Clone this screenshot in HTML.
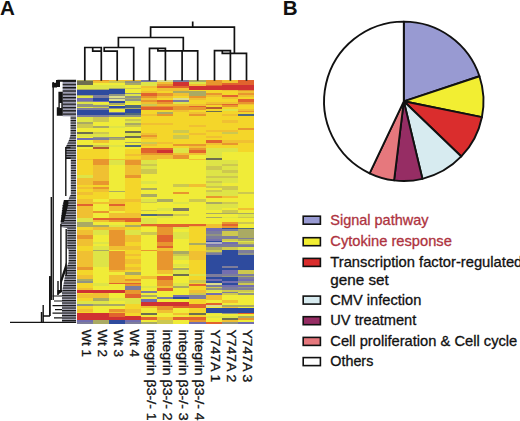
<!DOCTYPE html>
<html><head><meta charset="utf-8"><style>
html,body{margin:0;padding:0;background:#fff;}
svg{display:block;}
text{font-family:"Liberation Sans",sans-serif;}
.lg{font-size:14.2px;stroke-width:0.3px;}
.cl{font-size:13.3px;fill:#111;stroke:#111;stroke-width:0.3px;}
.pl{font-size:20.6px;font-weight:bold;fill:#111;}
</style></head><body>
<svg width="520" height="421" viewBox="0 0 520 421">
<rect width="520" height="421" fill="#fff"/>
<text class="pl" x="0.1" y="14.9">A</text>
<text class="pl" x="282.8" y="14.9">B</text>
<defs><filter id="hb" x="-2%" y="-2%" width="104%" height="104%"><feGaussianBlur stdDeviation="0.45"/></filter></defs><g shape-rendering="crispEdges" filter="url(#hb)"><rect x="76.70" y="79.50" width="16.15" height="1.95" fill="#aaaa64"/>
<rect x="92.80" y="79.50" width="16.15" height="1.95" fill="#e8962d"/>
<rect x="108.90" y="79.50" width="16.15" height="1.95" fill="#f0c030"/>
<rect x="125.00" y="79.50" width="16.15" height="1.95" fill="#f0c030"/>
<rect x="76.70" y="81.40" width="16.15" height="1.95" fill="#6e6e50"/>
<rect x="92.80" y="81.40" width="16.15" height="1.95" fill="#f0c030"/>
<rect x="108.90" y="81.40" width="16.15" height="1.95" fill="#cdc850"/>
<rect x="125.00" y="81.40" width="16.15" height="1.95" fill="#919482"/>
<rect x="76.70" y="83.30" width="16.15" height="1.45" fill="#6e6e50"/>
<rect x="92.80" y="83.30" width="16.15" height="1.45" fill="#f0ec38"/>
<rect x="108.90" y="83.30" width="16.15" height="1.45" fill="#f0ec38"/>
<rect x="125.00" y="83.30" width="16.15" height="1.45" fill="#aaaa64"/>
<rect x="76.70" y="84.70" width="16.15" height="2.85" fill="#dee446"/>
<rect x="92.80" y="84.70" width="16.15" height="2.85" fill="#dee446"/>
<rect x="108.90" y="84.70" width="16.15" height="2.85" fill="#dee446"/>
<rect x="125.00" y="84.70" width="16.15" height="2.85" fill="#f0ec38"/>
<rect x="76.70" y="87.50" width="16.15" height="1.05" fill="#dee446"/>
<rect x="92.80" y="87.50" width="16.15" height="1.05" fill="#dee446"/>
<rect x="108.90" y="87.50" width="16.15" height="1.05" fill="#aaaa64"/>
<rect x="125.00" y="87.50" width="16.15" height="1.05" fill="#cdc850"/>
<rect x="76.70" y="88.50" width="16.15" height="0.95" fill="#aaaa64"/>
<rect x="92.80" y="88.50" width="16.15" height="0.95" fill="#aaaa64"/>
<rect x="108.90" y="88.50" width="16.15" height="0.95" fill="#aaaa64"/>
<rect x="125.00" y="88.50" width="16.15" height="0.95" fill="#cdc850"/>
<rect x="76.70" y="89.40" width="16.15" height="0.55" fill="#aaaa64"/>
<rect x="92.80" y="89.40" width="16.15" height="0.55" fill="#aaaa64"/>
<rect x="108.90" y="89.40" width="16.15" height="0.55" fill="#2e4c9e"/>
<rect x="125.00" y="89.40" width="16.15" height="0.55" fill="#f0ec38"/>
<rect x="76.70" y="89.90" width="16.15" height="2.65" fill="#2e4c9e"/>
<rect x="92.80" y="89.90" width="16.15" height="2.65" fill="#2e4c9e"/>
<rect x="108.90" y="89.90" width="16.15" height="2.65" fill="#2e4c9e"/>
<rect x="125.00" y="89.90" width="16.15" height="2.65" fill="#f0ec38"/>
<rect x="76.70" y="92.50" width="16.15" height="1.75" fill="#2e4c9e"/>
<rect x="92.80" y="92.50" width="16.15" height="1.75" fill="#2e4c9e"/>
<rect x="108.90" y="92.50" width="16.15" height="1.75" fill="#2e4c9e"/>
<rect x="125.00" y="92.50" width="16.15" height="1.75" fill="#919482"/>
<rect x="76.70" y="94.20" width="16.15" height="0.55" fill="#2e4c9e"/>
<rect x="92.80" y="94.20" width="16.15" height="0.55" fill="#2e4c9e"/>
<rect x="108.90" y="94.20" width="16.15" height="0.55" fill="#919482"/>
<rect x="125.00" y="94.20" width="16.15" height="0.55" fill="#dee446"/>
<rect x="76.70" y="94.70" width="16.15" height="0.95" fill="#aaaa64"/>
<rect x="92.80" y="94.70" width="16.15" height="0.95" fill="#7d7d9b"/>
<rect x="108.90" y="94.70" width="16.15" height="0.95" fill="#919482"/>
<rect x="125.00" y="94.70" width="16.15" height="0.95" fill="#dee446"/>
<rect x="76.70" y="95.60" width="16.15" height="0.55" fill="#aaaa64"/>
<rect x="92.80" y="95.60" width="16.15" height="0.55" fill="#7d7d9b"/>
<rect x="108.90" y="95.60" width="16.15" height="0.55" fill="#dedc8c"/>
<rect x="125.00" y="95.60" width="16.15" height="0.55" fill="#919482"/>
<rect x="76.70" y="96.10" width="16.15" height="1.45" fill="#dee446"/>
<rect x="92.80" y="96.10" width="16.15" height="1.45" fill="#7d7d9b"/>
<rect x="108.90" y="96.10" width="16.15" height="1.45" fill="#dedc8c"/>
<rect x="125.00" y="96.10" width="16.15" height="1.45" fill="#919482"/>
<rect x="76.70" y="97.50" width="16.15" height="0.55" fill="#dee446"/>
<rect x="92.80" y="97.50" width="16.15" height="0.55" fill="#7d7d9b"/>
<rect x="108.90" y="97.50" width="16.15" height="0.55" fill="#919482"/>
<rect x="125.00" y="97.50" width="16.15" height="0.55" fill="#aaaa64"/>
<rect x="76.70" y="98.00" width="16.15" height="1.45" fill="#736eaf"/>
<rect x="92.80" y="98.00" width="16.15" height="1.45" fill="#2e4c9e"/>
<rect x="108.90" y="98.00" width="16.15" height="1.45" fill="#919482"/>
<rect x="125.00" y="98.00" width="16.15" height="1.45" fill="#aaaa64"/>
<rect x="76.70" y="99.40" width="16.15" height="1.45" fill="#736eaf"/>
<rect x="92.80" y="99.40" width="16.15" height="1.45" fill="#2e4c9e"/>
<rect x="108.90" y="99.40" width="16.15" height="1.45" fill="#dedc8c"/>
<rect x="125.00" y="99.40" width="16.15" height="1.45" fill="#919482"/>
<rect x="76.70" y="100.80" width="16.15" height="0.55" fill="#919482"/>
<rect x="92.80" y="100.80" width="16.15" height="0.55" fill="#736eaf"/>
<rect x="108.90" y="100.80" width="16.15" height="0.55" fill="#dedc8c"/>
<rect x="125.00" y="100.80" width="16.15" height="0.55" fill="#919482"/>
<rect x="76.70" y="101.30" width="16.15" height="0.55" fill="#919482"/>
<rect x="92.80" y="101.30" width="16.15" height="0.55" fill="#736eaf"/>
<rect x="108.90" y="101.30" width="16.15" height="0.55" fill="#2e4c9e"/>
<rect x="125.00" y="101.30" width="16.15" height="0.55" fill="#dee446"/>
<rect x="76.70" y="101.80" width="16.15" height="1.45" fill="#dee446"/>
<rect x="92.80" y="101.80" width="16.15" height="1.45" fill="#f0ec38"/>
<rect x="108.90" y="101.80" width="16.15" height="1.45" fill="#2e4c9e"/>
<rect x="125.00" y="101.80" width="16.15" height="1.45" fill="#dee446"/>
<rect x="76.70" y="103.20" width="16.15" height="0.55" fill="#dee446"/>
<rect x="92.80" y="103.20" width="16.15" height="0.55" fill="#f0ec38"/>
<rect x="108.90" y="103.20" width="16.15" height="0.55" fill="#aaaa64"/>
<rect x="125.00" y="103.20" width="16.15" height="0.55" fill="#f0ec38"/>
<rect x="76.70" y="103.70" width="16.15" height="0.95" fill="#919482"/>
<rect x="92.80" y="103.70" width="16.15" height="0.95" fill="#dee446"/>
<rect x="108.90" y="103.70" width="16.15" height="0.95" fill="#aaaa64"/>
<rect x="125.00" y="103.70" width="16.15" height="0.95" fill="#f0ec38"/>
<rect x="76.70" y="104.60" width="16.15" height="0.55" fill="#919482"/>
<rect x="92.80" y="104.60" width="16.15" height="0.55" fill="#dee446"/>
<rect x="108.90" y="104.60" width="16.15" height="0.55" fill="#f0ec38"/>
<rect x="125.00" y="104.60" width="16.15" height="0.55" fill="#50697d"/>
<rect x="76.70" y="105.10" width="16.15" height="1.05" fill="#919482"/>
<rect x="92.80" y="105.10" width="16.15" height="1.05" fill="#919482"/>
<rect x="108.90" y="105.10" width="16.15" height="1.05" fill="#f0ec38"/>
<rect x="125.00" y="105.10" width="16.15" height="1.05" fill="#50697d"/>
<rect x="76.70" y="106.10" width="16.15" height="0.45" fill="#919482"/>
<rect x="92.80" y="106.10" width="16.15" height="0.45" fill="#919482"/>
<rect x="108.90" y="106.10" width="16.15" height="0.45" fill="#2e4c9e"/>
<rect x="125.00" y="106.10" width="16.15" height="0.45" fill="#50697d"/>
<rect x="76.70" y="106.50" width="16.15" height="1.05" fill="#dee446"/>
<rect x="92.80" y="106.50" width="16.15" height="1.05" fill="#cdc850"/>
<rect x="108.90" y="106.50" width="16.15" height="1.05" fill="#2e4c9e"/>
<rect x="125.00" y="106.50" width="16.15" height="1.05" fill="#50697d"/>
<rect x="76.70" y="107.50" width="16.15" height="0.95" fill="#dee446"/>
<rect x="92.80" y="107.50" width="16.15" height="0.95" fill="#cdc850"/>
<rect x="108.90" y="107.50" width="16.15" height="0.95" fill="#919482"/>
<rect x="125.00" y="107.50" width="16.15" height="0.95" fill="#aaaa64"/>
<rect x="76.70" y="108.40" width="16.15" height="0.65" fill="#7d7d9b"/>
<rect x="92.80" y="108.40" width="16.15" height="0.65" fill="#7d7d9b"/>
<rect x="108.90" y="108.40" width="16.15" height="0.65" fill="#919482"/>
<rect x="125.00" y="108.40" width="16.15" height="0.65" fill="#aaaa64"/>
<rect x="76.70" y="109.00" width="16.15" height="1.35" fill="#7d7d9b"/>
<rect x="92.80" y="109.00" width="16.15" height="1.35" fill="#7d7d9b"/>
<rect x="108.90" y="109.00" width="16.15" height="1.35" fill="#f0ec38"/>
<rect x="125.00" y="109.00" width="16.15" height="1.35" fill="#2e4c9e"/>
<rect x="76.70" y="110.30" width="16.15" height="1.55" fill="#2e4c9e"/>
<rect x="92.80" y="110.30" width="16.15" height="1.55" fill="#2e4c9e"/>
<rect x="108.90" y="110.30" width="16.15" height="1.55" fill="#f0ec38"/>
<rect x="125.00" y="110.30" width="16.15" height="1.55" fill="#2e4c9e"/>
<rect x="76.70" y="111.80" width="16.15" height="1.45" fill="#2e4c9e"/>
<rect x="92.80" y="111.80" width="16.15" height="1.45" fill="#2e4c9e"/>
<rect x="108.90" y="111.80" width="16.15" height="1.45" fill="#7d7d9b"/>
<rect x="125.00" y="111.80" width="16.15" height="1.45" fill="#2e4c9e"/>
<rect x="76.70" y="113.20" width="16.15" height="1.45" fill="#2e4c9e"/>
<rect x="92.80" y="113.20" width="16.15" height="1.45" fill="#2e4c9e"/>
<rect x="108.90" y="113.20" width="16.15" height="1.45" fill="#2e4c9e"/>
<rect x="125.00" y="113.20" width="16.15" height="1.45" fill="#50697d"/>
<rect x="76.70" y="114.60" width="16.15" height="0.55" fill="#7d7d9b"/>
<rect x="92.80" y="114.60" width="16.15" height="0.55" fill="#7d7d9b"/>
<rect x="108.90" y="114.60" width="16.15" height="0.55" fill="#2e4c9e"/>
<rect x="125.00" y="114.60" width="16.15" height="0.55" fill="#50697d"/>
<rect x="76.70" y="115.10" width="16.15" height="1.55" fill="#7d7d9b"/>
<rect x="92.80" y="115.10" width="16.15" height="1.55" fill="#7d7d9b"/>
<rect x="108.90" y="115.10" width="16.15" height="1.55" fill="#919482"/>
<rect x="125.00" y="115.10" width="16.15" height="1.55" fill="#919482"/>
<rect x="76.70" y="116.60" width="16.15" height="2.25" fill="#dee446"/>
<rect x="92.80" y="116.60" width="16.15" height="2.25" fill="#cdc850"/>
<rect x="108.90" y="116.60" width="16.15" height="2.25" fill="#f0ec38"/>
<rect x="125.00" y="116.60" width="16.15" height="2.25" fill="#f0ec38"/>
<rect x="76.70" y="118.80" width="16.15" height="1.95" fill="#dee446"/>
<rect x="92.80" y="118.80" width="16.15" height="1.95" fill="#cdc850"/>
<rect x="108.90" y="118.80" width="16.15" height="1.95" fill="#f0ec38"/>
<rect x="125.00" y="118.80" width="16.15" height="1.95" fill="#cdc850"/>
<rect x="76.70" y="120.70" width="16.15" height="1.05" fill="#dee446"/>
<rect x="92.80" y="120.70" width="16.15" height="1.05" fill="#cdc850"/>
<rect x="108.90" y="120.70" width="16.15" height="1.05" fill="#f0ec38"/>
<rect x="125.00" y="120.70" width="16.15" height="1.05" fill="#dee446"/>
<rect x="76.70" y="121.70" width="16.15" height="1.05" fill="#aaaa64"/>
<rect x="92.80" y="121.70" width="16.15" height="1.05" fill="#f0ec38"/>
<rect x="108.90" y="121.70" width="16.15" height="1.05" fill="#f0ec38"/>
<rect x="125.00" y="121.70" width="16.15" height="1.05" fill="#dee446"/>
<rect x="76.70" y="122.70" width="16.15" height="0.95" fill="#aaaa64"/>
<rect x="92.80" y="122.70" width="16.15" height="0.95" fill="#f0ec38"/>
<rect x="108.90" y="122.70" width="16.15" height="0.95" fill="#f0ec38"/>
<rect x="125.00" y="122.70" width="16.15" height="0.95" fill="#aaaa64"/>
<rect x="76.70" y="123.60" width="16.15" height="1.05" fill="#cdc850"/>
<rect x="92.80" y="123.60" width="16.15" height="1.05" fill="#f0ec38"/>
<rect x="108.90" y="123.60" width="16.15" height="1.05" fill="#f0ec38"/>
<rect x="125.00" y="123.60" width="16.15" height="1.05" fill="#aaaa64"/>
<rect x="76.70" y="124.60" width="16.15" height="0.95" fill="#cdc850"/>
<rect x="92.80" y="124.60" width="16.15" height="0.95" fill="#f0ec38"/>
<rect x="108.90" y="124.60" width="16.15" height="0.95" fill="#f0ec38"/>
<rect x="125.00" y="124.60" width="16.15" height="0.95" fill="#cdc850"/>
<rect x="76.70" y="125.50" width="16.15" height="1.05" fill="#cdc850"/>
<rect x="92.80" y="125.50" width="16.15" height="1.05" fill="#aaaa64"/>
<rect x="108.90" y="125.50" width="16.15" height="1.05" fill="#dee446"/>
<rect x="125.00" y="125.50" width="16.15" height="1.05" fill="#cdc850"/>
<rect x="76.70" y="126.50" width="16.15" height="1.05" fill="#cdc850"/>
<rect x="92.80" y="126.50" width="16.15" height="1.05" fill="#aaaa64"/>
<rect x="108.90" y="126.50" width="16.15" height="1.05" fill="#dee446"/>
<rect x="125.00" y="126.50" width="16.15" height="1.05" fill="#f0ec38"/>
<rect x="76.70" y="127.50" width="16.15" height="3.85" fill="#f0ec38"/>
<rect x="92.80" y="127.50" width="16.15" height="3.85" fill="#f0ec38"/>
<rect x="108.90" y="127.50" width="16.15" height="3.85" fill="#f0ec38"/>
<rect x="125.00" y="127.50" width="16.15" height="3.85" fill="#f0ec38"/>
<rect x="76.70" y="131.30" width="16.15" height="1.05" fill="#f0ec38"/>
<rect x="92.80" y="131.30" width="16.15" height="1.05" fill="#f0ec38"/>
<rect x="108.90" y="131.30" width="16.15" height="1.05" fill="#f0ec38"/>
<rect x="125.00" y="131.30" width="16.15" height="1.05" fill="#6e6e50"/>
<rect x="76.70" y="132.30" width="16.15" height="0.95" fill="#6e6e50"/>
<rect x="92.80" y="132.30" width="16.15" height="0.95" fill="#cdc850"/>
<rect x="108.90" y="132.30" width="16.15" height="0.95" fill="#f0ec38"/>
<rect x="125.00" y="132.30" width="16.15" height="0.95" fill="#6e6e50"/>
<rect x="76.70" y="133.20" width="16.15" height="1.05" fill="#6e6e50"/>
<rect x="92.80" y="133.20" width="16.15" height="1.05" fill="#cdc850"/>
<rect x="108.90" y="133.20" width="16.15" height="1.05" fill="#f0ec38"/>
<rect x="125.00" y="133.20" width="16.15" height="1.05" fill="#dee446"/>
<rect x="76.70" y="134.20" width="16.15" height="1.45" fill="#dee446"/>
<rect x="92.80" y="134.20" width="16.15" height="1.45" fill="#dee446"/>
<rect x="108.90" y="134.20" width="16.15" height="1.45" fill="#f0ec38"/>
<rect x="125.00" y="134.20" width="16.15" height="1.45" fill="#dee446"/>
<rect x="76.70" y="135.60" width="16.15" height="1.05" fill="#dee446"/>
<rect x="92.80" y="135.60" width="16.15" height="1.05" fill="#dee446"/>
<rect x="108.90" y="135.60" width="16.15" height="1.05" fill="#f0ec38"/>
<rect x="125.00" y="135.60" width="16.15" height="1.05" fill="#6e6e50"/>
<rect x="76.70" y="136.60" width="16.15" height="1.05" fill="#f0ec38"/>
<rect x="92.80" y="136.60" width="16.15" height="1.05" fill="#919482"/>
<rect x="108.90" y="136.60" width="16.15" height="1.05" fill="#919482"/>
<rect x="125.00" y="136.60" width="16.15" height="1.05" fill="#6e6e50"/>
<rect x="76.70" y="137.60" width="16.15" height="0.45" fill="#f0ec38"/>
<rect x="92.80" y="137.60" width="16.15" height="0.45" fill="#919482"/>
<rect x="108.90" y="137.60" width="16.15" height="0.45" fill="#919482"/>
<rect x="125.00" y="137.60" width="16.15" height="0.45" fill="#f0ec38"/>
<rect x="76.70" y="138.00" width="16.15" height="2.05" fill="#736eaf"/>
<rect x="92.80" y="138.00" width="16.15" height="2.05" fill="#7d7d9b"/>
<rect x="108.90" y="138.00" width="16.15" height="2.05" fill="#aaaa64"/>
<rect x="125.00" y="138.00" width="16.15" height="2.05" fill="#f0ec38"/>
<rect x="76.70" y="140.00" width="16.15" height="1.95" fill="#f0ec38"/>
<rect x="92.80" y="140.00" width="16.15" height="1.95" fill="#f0c030"/>
<rect x="108.90" y="140.00" width="16.15" height="1.95" fill="#f0ec38"/>
<rect x="125.00" y="140.00" width="16.15" height="1.95" fill="#f0ec38"/>
<rect x="76.70" y="141.90" width="16.15" height="0.95" fill="#f0ec38"/>
<rect x="92.80" y="141.90" width="16.15" height="0.95" fill="#f0c030"/>
<rect x="108.90" y="141.90" width="16.15" height="0.95" fill="#f0ec38"/>
<rect x="125.00" y="141.90" width="16.15" height="0.95" fill="#aaaa64"/>
<rect x="76.70" y="142.80" width="16.15" height="0.55" fill="#f0ec38"/>
<rect x="92.80" y="142.80" width="16.15" height="0.55" fill="#f0ec38"/>
<rect x="108.90" y="142.80" width="16.15" height="0.55" fill="#f0ec38"/>
<rect x="125.00" y="142.80" width="16.15" height="0.55" fill="#aaaa64"/>
<rect x="76.70" y="143.30" width="16.15" height="1.55" fill="#f0ec38"/>
<rect x="92.80" y="143.30" width="16.15" height="1.55" fill="#f0ec38"/>
<rect x="108.90" y="143.30" width="16.15" height="1.55" fill="#f0ec38"/>
<rect x="125.00" y="143.30" width="16.15" height="1.55" fill="#f0ec38"/>
<rect x="76.70" y="144.80" width="16.15" height="1.95" fill="#6e6e50"/>
<rect x="92.80" y="144.80" width="16.15" height="1.95" fill="#cdc850"/>
<rect x="108.90" y="144.80" width="16.15" height="1.95" fill="#dee446"/>
<rect x="125.00" y="144.80" width="16.15" height="1.95" fill="#50697d"/>
<rect x="76.70" y="146.70" width="16.15" height="0.55" fill="#f0ec38"/>
<rect x="92.80" y="146.70" width="16.15" height="0.55" fill="#b45c32"/>
<rect x="108.90" y="146.70" width="16.15" height="0.55" fill="#f0ec38"/>
<rect x="125.00" y="146.70" width="16.15" height="0.55" fill="#50697d"/>
<rect x="76.70" y="147.20" width="16.15" height="1.45" fill="#f0ec38"/>
<rect x="92.80" y="147.20" width="16.15" height="1.45" fill="#b45c32"/>
<rect x="108.90" y="147.20" width="16.15" height="1.45" fill="#f0ec38"/>
<rect x="125.00" y="147.20" width="16.15" height="1.45" fill="#f0ec38"/>
<rect x="76.70" y="148.60" width="16.15" height="4.95" fill="#f4d62c"/>
<rect x="92.80" y="148.60" width="16.15" height="4.95" fill="#f4d62c"/>
<rect x="108.90" y="148.60" width="16.15" height="4.95" fill="#f0ec38"/>
<rect x="125.00" y="148.60" width="16.15" height="4.95" fill="#f4d62c"/>
<rect x="76.70" y="153.50" width="16.15" height="2.55" fill="#f4d62c"/>
<rect x="92.80" y="153.50" width="16.15" height="2.55" fill="#f4d62c"/>
<rect x="108.90" y="153.50" width="16.15" height="2.55" fill="#f0ec38"/>
<rect x="125.00" y="153.50" width="16.15" height="2.55" fill="#f0c030"/>
<rect x="76.70" y="156.00" width="16.15" height="3.05" fill="#f4d62c"/>
<rect x="92.80" y="156.00" width="16.15" height="3.05" fill="#f4d62c"/>
<rect x="108.90" y="156.00" width="16.15" height="3.05" fill="#f0ec38"/>
<rect x="125.00" y="156.00" width="16.15" height="3.05" fill="#f4d62c"/>
<rect x="76.70" y="159.00" width="16.15" height="1.25" fill="#f0c030"/>
<rect x="92.80" y="159.00" width="16.15" height="1.25" fill="#e8962d"/>
<rect x="108.90" y="159.00" width="16.15" height="1.25" fill="#f0c030"/>
<rect x="125.00" y="159.00" width="16.15" height="1.25" fill="#f0c030"/>
<rect x="76.70" y="160.20" width="16.15" height="4.35" fill="#f4d62c"/>
<rect x="92.80" y="160.20" width="16.15" height="4.35" fill="#e8962d"/>
<rect x="108.90" y="160.20" width="16.15" height="4.35" fill="#dee446"/>
<rect x="125.00" y="160.20" width="16.15" height="4.35" fill="#e8962d"/>
<rect x="76.70" y="164.50" width="16.15" height="10.55" fill="#f4d62c"/>
<rect x="92.80" y="164.50" width="16.15" height="10.55" fill="#f0c030"/>
<rect x="108.90" y="164.50" width="16.15" height="10.55" fill="#f0ec38"/>
<rect x="125.00" y="164.50" width="16.15" height="10.55" fill="#f0c030"/>
<rect x="76.70" y="175.00" width="16.15" height="2.55" fill="#dee446"/>
<rect x="92.80" y="175.00" width="16.15" height="2.55" fill="#f0c030"/>
<rect x="108.90" y="175.00" width="16.15" height="2.55" fill="#f0ec38"/>
<rect x="125.00" y="175.00" width="16.15" height="2.55" fill="#e8962d"/>
<rect x="76.70" y="177.50" width="16.15" height="3.75" fill="#f0c030"/>
<rect x="92.80" y="177.50" width="16.15" height="3.75" fill="#f0c030"/>
<rect x="108.90" y="177.50" width="16.15" height="3.75" fill="#f0ec38"/>
<rect x="125.00" y="177.50" width="16.15" height="3.75" fill="#f4d62c"/>
<rect x="76.70" y="181.20" width="16.15" height="3.65" fill="#f0c030"/>
<rect x="92.80" y="181.20" width="16.15" height="3.65" fill="#e8962d"/>
<rect x="108.90" y="181.20" width="16.15" height="3.65" fill="#f0ec38"/>
<rect x="125.00" y="181.20" width="16.15" height="3.65" fill="#f4d62c"/>
<rect x="76.70" y="184.80" width="16.15" height="2.55" fill="#f4d62c"/>
<rect x="92.80" y="184.80" width="16.15" height="2.55" fill="#f4d62c"/>
<rect x="108.90" y="184.80" width="16.15" height="2.55" fill="#f0ec38"/>
<rect x="125.00" y="184.80" width="16.15" height="2.55" fill="#f4d62c"/>
<rect x="76.70" y="187.30" width="16.15" height="1.95" fill="#f0c030"/>
<rect x="92.80" y="187.30" width="16.15" height="1.95" fill="#e8962d"/>
<rect x="108.90" y="187.30" width="16.15" height="1.95" fill="#f0ec38"/>
<rect x="125.00" y="187.30" width="16.15" height="1.95" fill="#f4d62c"/>
<rect x="76.70" y="189.20" width="16.15" height="1.65" fill="#f4d62c"/>
<rect x="92.80" y="189.20" width="16.15" height="1.65" fill="#f0c030"/>
<rect x="108.90" y="189.20" width="16.15" height="1.65" fill="#f0ec38"/>
<rect x="125.00" y="189.20" width="16.15" height="1.65" fill="#f4d62c"/>
<rect x="76.70" y="190.80" width="16.15" height="1.05" fill="#f4d62c"/>
<rect x="92.80" y="190.80" width="16.15" height="1.05" fill="#f0c030"/>
<rect x="108.90" y="190.80" width="16.15" height="1.05" fill="#aaaa64"/>
<rect x="125.00" y="190.80" width="16.15" height="1.05" fill="#f4d62c"/>
<rect x="76.70" y="191.80" width="16.15" height="3.25" fill="#f0c030"/>
<rect x="92.80" y="191.80" width="16.15" height="3.25" fill="#f4d62c"/>
<rect x="108.90" y="191.80" width="16.15" height="3.25" fill="#f0ec38"/>
<rect x="125.00" y="191.80" width="16.15" height="3.25" fill="#f4d62c"/>
<rect x="76.70" y="195.00" width="16.15" height="4.05" fill="#f4d62c"/>
<rect x="92.80" y="195.00" width="16.15" height="4.05" fill="#f4d62c"/>
<rect x="108.90" y="195.00" width="16.15" height="4.05" fill="#f0ec38"/>
<rect x="125.00" y="195.00" width="16.15" height="4.05" fill="#f4d62c"/>
<rect x="76.70" y="199.00" width="16.15" height="2.55" fill="#f0c030"/>
<rect x="92.80" y="199.00" width="16.15" height="2.55" fill="#f0ec38"/>
<rect x="108.90" y="199.00" width="16.15" height="2.55" fill="#f0c030"/>
<rect x="125.00" y="199.00" width="16.15" height="2.55" fill="#f0c030"/>
<rect x="76.70" y="201.50" width="16.15" height="2.55" fill="#f0c030"/>
<rect x="92.80" y="201.50" width="16.15" height="2.55" fill="#f0c030"/>
<rect x="108.90" y="201.50" width="16.15" height="2.55" fill="#f0c030"/>
<rect x="125.00" y="201.50" width="16.15" height="2.55" fill="#f4d62c"/>
<rect x="76.70" y="204.00" width="16.15" height="2.45" fill="#e1642d"/>
<rect x="92.80" y="204.00" width="16.15" height="2.45" fill="#f0ec38"/>
<rect x="108.90" y="204.00" width="16.15" height="2.45" fill="#e1642d"/>
<rect x="125.00" y="204.00" width="16.15" height="2.45" fill="#f4d62c"/>
<rect x="76.70" y="206.40" width="16.15" height="4.35" fill="#f0c030"/>
<rect x="92.80" y="206.40" width="16.15" height="4.35" fill="#f0ec38"/>
<rect x="108.90" y="206.40" width="16.15" height="4.35" fill="#f0c030"/>
<rect x="125.00" y="206.40" width="16.15" height="4.35" fill="#f4d62c"/>
<rect x="76.70" y="210.70" width="16.15" height="1.85" fill="#f0c030"/>
<rect x="92.80" y="210.70" width="16.15" height="1.85" fill="#e8962d"/>
<rect x="108.90" y="210.70" width="16.15" height="1.85" fill="#f0ec38"/>
<rect x="125.00" y="210.70" width="16.15" height="1.85" fill="#f4d62c"/>
<rect x="76.70" y="212.50" width="16.15" height="5.05" fill="#f0c030"/>
<rect x="92.80" y="212.50" width="16.15" height="5.05" fill="#f0ec38"/>
<rect x="108.90" y="212.50" width="16.15" height="5.05" fill="#f0c030"/>
<rect x="125.00" y="212.50" width="16.15" height="5.05" fill="#f0c030"/>
<rect x="76.70" y="217.50" width="16.15" height="2.45" fill="#dee446"/>
<rect x="92.80" y="217.50" width="16.15" height="2.45" fill="#e1642d"/>
<rect x="108.90" y="217.50" width="16.15" height="2.45" fill="#e1642d"/>
<rect x="125.00" y="217.50" width="16.15" height="2.45" fill="#e1642d"/>
<rect x="76.70" y="219.90" width="16.15" height="2.55" fill="#dee446"/>
<rect x="92.80" y="219.90" width="16.15" height="2.55" fill="#f0c030"/>
<rect x="108.90" y="219.90" width="16.15" height="2.55" fill="#e8962d"/>
<rect x="125.00" y="219.90" width="16.15" height="2.55" fill="#e1642d"/>
<rect x="76.70" y="222.40" width="16.15" height="2.45" fill="#aaaa64"/>
<rect x="92.80" y="222.40" width="16.15" height="2.45" fill="#f0ec38"/>
<rect x="108.90" y="222.40" width="16.15" height="2.45" fill="#f0ec38"/>
<rect x="125.00" y="222.40" width="16.15" height="2.45" fill="#f4d62c"/>
<rect x="76.70" y="224.80" width="16.15" height="2.55" fill="#aaaa64"/>
<rect x="92.80" y="224.80" width="16.15" height="2.55" fill="#aaaa64"/>
<rect x="108.90" y="224.80" width="16.15" height="2.55" fill="#dee446"/>
<rect x="125.00" y="224.80" width="16.15" height="2.55" fill="#aaaa64"/>
<rect x="76.70" y="227.30" width="16.15" height="2.55" fill="#f4d62c"/>
<rect x="92.80" y="227.30" width="16.15" height="2.55" fill="#f0c030"/>
<rect x="108.90" y="227.30" width="16.15" height="2.55" fill="#f0c030"/>
<rect x="125.00" y="227.30" width="16.15" height="2.55" fill="#f4d62c"/>
<rect x="76.70" y="229.80" width="16.15" height="4.95" fill="#f0c030"/>
<rect x="92.80" y="229.80" width="16.15" height="4.95" fill="#dee446"/>
<rect x="108.90" y="229.80" width="16.15" height="4.95" fill="#e8962d"/>
<rect x="125.00" y="229.80" width="16.15" height="4.95" fill="#dee446"/>
<rect x="76.70" y="234.70" width="16.15" height="4.35" fill="#e8962d"/>
<rect x="92.80" y="234.70" width="16.15" height="4.35" fill="#f0ec38"/>
<rect x="108.90" y="234.70" width="16.15" height="4.35" fill="#e8962d"/>
<rect x="125.00" y="234.70" width="16.15" height="4.35" fill="#f0c030"/>
<rect x="76.70" y="239.00" width="16.15" height="2.55" fill="#f0c030"/>
<rect x="92.80" y="239.00" width="16.15" height="2.55" fill="#f0ec38"/>
<rect x="108.90" y="239.00" width="16.15" height="2.55" fill="#e8962d"/>
<rect x="125.00" y="239.00" width="16.15" height="2.55" fill="#f0c030"/>
<rect x="76.70" y="241.50" width="16.15" height="2.55" fill="#f0c030"/>
<rect x="92.80" y="241.50" width="16.15" height="2.55" fill="#dee446"/>
<rect x="108.90" y="241.50" width="16.15" height="2.55" fill="#e8962d"/>
<rect x="125.00" y="241.50" width="16.15" height="2.55" fill="#f4d62c"/>
<rect x="76.70" y="244.00" width="16.15" height="2.45" fill="#f0c030"/>
<rect x="92.80" y="244.00" width="16.15" height="2.45" fill="#f0ec38"/>
<rect x="108.90" y="244.00" width="16.15" height="2.45" fill="#e8962d"/>
<rect x="125.00" y="244.00" width="16.15" height="2.45" fill="#f4d62c"/>
<rect x="76.70" y="246.40" width="16.15" height="3.15" fill="#f4d62c"/>
<rect x="92.80" y="246.40" width="16.15" height="3.15" fill="#dee446"/>
<rect x="108.90" y="246.40" width="16.15" height="3.15" fill="#f0c030"/>
<rect x="125.00" y="246.40" width="16.15" height="3.15" fill="#f0c030"/>
<rect x="76.70" y="249.50" width="16.15" height="1.85" fill="#f4d62c"/>
<rect x="92.80" y="249.50" width="16.15" height="1.85" fill="#aaaa64"/>
<rect x="108.90" y="249.50" width="16.15" height="1.85" fill="#f0ec38"/>
<rect x="125.00" y="249.50" width="16.15" height="1.85" fill="#f4d62c"/>
<rect x="76.70" y="251.30" width="16.15" height="3.15" fill="#f0c030"/>
<rect x="92.80" y="251.30" width="16.15" height="3.15" fill="#dee446"/>
<rect x="108.90" y="251.30" width="16.15" height="3.15" fill="#e8962d"/>
<rect x="125.00" y="251.30" width="16.15" height="3.15" fill="#f4d62c"/>
<rect x="76.70" y="254.40" width="16.15" height="1.85" fill="#f0c030"/>
<rect x="92.80" y="254.40" width="16.15" height="1.85" fill="#dee446"/>
<rect x="108.90" y="254.40" width="16.15" height="1.85" fill="#e8962d"/>
<rect x="125.00" y="254.40" width="16.15" height="1.85" fill="#f0c030"/>
<rect x="76.70" y="256.20" width="16.15" height="2.55" fill="#f0c030"/>
<rect x="92.80" y="256.20" width="16.15" height="2.55" fill="#dee446"/>
<rect x="108.90" y="256.20" width="16.15" height="2.55" fill="#e8962d"/>
<rect x="125.00" y="256.20" width="16.15" height="2.55" fill="#f4d62c"/>
<rect x="76.70" y="258.70" width="16.15" height="4.95" fill="#f0c030"/>
<rect x="92.80" y="258.70" width="16.15" height="4.95" fill="#dee446"/>
<rect x="108.90" y="258.70" width="16.15" height="4.95" fill="#e8962d"/>
<rect x="125.00" y="258.70" width="16.15" height="4.95" fill="#f0c030"/>
<rect x="76.70" y="263.60" width="16.15" height="3.75" fill="#f0c030"/>
<rect x="92.80" y="263.60" width="16.15" height="3.75" fill="#dee446"/>
<rect x="108.90" y="263.60" width="16.15" height="3.75" fill="#e8962d"/>
<rect x="125.00" y="263.60" width="16.15" height="3.75" fill="#f4d62c"/>
<rect x="76.70" y="267.30" width="16.15" height="2.55" fill="#e8962d"/>
<rect x="92.80" y="267.30" width="16.15" height="2.55" fill="#f0ec38"/>
<rect x="108.90" y="267.30" width="16.15" height="2.55" fill="#e8962d"/>
<rect x="125.00" y="267.30" width="16.15" height="2.55" fill="#f0c030"/>
<rect x="76.70" y="269.80" width="16.15" height="2.45" fill="#f4d62c"/>
<rect x="92.80" y="269.80" width="16.15" height="2.45" fill="#f0ec38"/>
<rect x="108.90" y="269.80" width="16.15" height="2.45" fill="#f0c030"/>
<rect x="125.00" y="269.80" width="16.15" height="2.45" fill="#f4d62c"/>
<rect x="76.70" y="272.20" width="16.15" height="2.55" fill="#f4d62c"/>
<rect x="92.80" y="272.20" width="16.15" height="2.55" fill="#f0ec38"/>
<rect x="108.90" y="272.20" width="16.15" height="2.55" fill="#f0ec38"/>
<rect x="125.00" y="272.20" width="16.15" height="2.55" fill="#aaaa64"/>
<rect x="76.70" y="274.70" width="16.15" height="4.35" fill="#f0c030"/>
<rect x="92.80" y="274.70" width="16.15" height="4.35" fill="#f0ec38"/>
<rect x="108.90" y="274.70" width="16.15" height="4.35" fill="#f0c030"/>
<rect x="125.00" y="274.70" width="16.15" height="4.35" fill="#f4d62c"/>
<rect x="76.70" y="279.00" width="16.15" height="1.85" fill="#aaaa64"/>
<rect x="92.80" y="279.00" width="16.15" height="1.85" fill="#f0ec38"/>
<rect x="108.90" y="279.00" width="16.15" height="1.85" fill="#f0c030"/>
<rect x="125.00" y="279.00" width="16.15" height="1.85" fill="#e8962d"/>
<rect x="76.70" y="280.80" width="16.15" height="1.95" fill="#919482"/>
<rect x="92.80" y="280.80" width="16.15" height="1.95" fill="#f0ec38"/>
<rect x="108.90" y="280.80" width="16.15" height="1.95" fill="#f0c030"/>
<rect x="125.00" y="280.80" width="16.15" height="1.95" fill="#f0c030"/>
<rect x="76.70" y="282.70" width="16.15" height="1.35" fill="#f4d62c"/>
<rect x="92.80" y="282.70" width="16.15" height="1.35" fill="#dee446"/>
<rect x="108.90" y="282.70" width="16.15" height="1.35" fill="#e1642d"/>
<rect x="125.00" y="282.70" width="16.15" height="1.35" fill="#e1642d"/>
<rect x="76.70" y="284.00" width="16.15" height="1.85" fill="#f4d62c"/>
<rect x="92.80" y="284.00" width="16.15" height="1.85" fill="#dee446"/>
<rect x="108.90" y="284.00" width="16.15" height="1.85" fill="#f0ec38"/>
<rect x="125.00" y="284.00" width="16.15" height="1.85" fill="#e8962d"/>
<rect x="76.70" y="285.80" width="16.15" height="2.45" fill="#f4d62c"/>
<rect x="92.80" y="285.80" width="16.15" height="2.45" fill="#f0ec38"/>
<rect x="108.90" y="285.80" width="16.15" height="2.45" fill="#f0ec38"/>
<rect x="125.00" y="285.80" width="16.15" height="2.45" fill="#7d7d9b"/>
<rect x="76.70" y="288.20" width="16.15" height="1.35" fill="#f0c030"/>
<rect x="92.80" y="288.20" width="16.15" height="1.35" fill="#f0ec38"/>
<rect x="108.90" y="288.20" width="16.15" height="1.35" fill="#f0ec38"/>
<rect x="125.00" y="288.20" width="16.15" height="1.35" fill="#7d7d9b"/>
<rect x="76.70" y="289.50" width="16.15" height="3.05" fill="#d03030"/>
<rect x="92.80" y="289.50" width="16.15" height="3.05" fill="#d03030"/>
<rect x="108.90" y="289.50" width="16.15" height="3.05" fill="#d03030"/>
<rect x="125.00" y="289.50" width="16.15" height="3.05" fill="#e8962d"/>
<rect x="76.70" y="292.50" width="16.15" height="1.95" fill="#f4d62c"/>
<rect x="92.80" y="292.50" width="16.15" height="1.95" fill="#f0c030"/>
<rect x="108.90" y="292.50" width="16.15" height="1.95" fill="#f0ec38"/>
<rect x="125.00" y="292.50" width="16.15" height="1.95" fill="#e8962d"/>
<rect x="76.70" y="294.40" width="16.15" height="3.15" fill="#f0c030"/>
<rect x="92.80" y="294.40" width="16.15" height="3.15" fill="#f0c030"/>
<rect x="108.90" y="294.40" width="16.15" height="3.15" fill="#f0ec38"/>
<rect x="125.00" y="294.40" width="16.15" height="3.15" fill="#e1642d"/>
<rect x="76.70" y="297.50" width="16.15" height="3.05" fill="#f4d62c"/>
<rect x="92.80" y="297.50" width="16.15" height="3.05" fill="#aaaa64"/>
<rect x="108.90" y="297.50" width="16.15" height="3.05" fill="#dee446"/>
<rect x="125.00" y="297.50" width="16.15" height="3.05" fill="#dee446"/>
<rect x="76.70" y="300.50" width="16.15" height="3.15" fill="#dee446"/>
<rect x="92.80" y="300.50" width="16.15" height="3.15" fill="#dee446"/>
<rect x="108.90" y="300.50" width="16.15" height="3.15" fill="#f0ec38"/>
<rect x="125.00" y="300.50" width="16.15" height="3.15" fill="#dee446"/>
<rect x="76.70" y="303.60" width="16.15" height="1.95" fill="#919482"/>
<rect x="92.80" y="303.60" width="16.15" height="1.95" fill="#aaaa64"/>
<rect x="108.90" y="303.60" width="16.15" height="1.95" fill="#aaaa64"/>
<rect x="125.00" y="303.60" width="16.15" height="1.95" fill="#f4d62c"/>
<rect x="76.70" y="305.50" width="16.15" height="3.05" fill="#f4d62c"/>
<rect x="92.80" y="305.50" width="16.15" height="3.05" fill="#f0ec38"/>
<rect x="108.90" y="305.50" width="16.15" height="3.05" fill="#f0ec38"/>
<rect x="125.00" y="305.50" width="16.15" height="3.05" fill="#f4d62c"/>
<rect x="76.70" y="308.50" width="16.15" height="3.15" fill="#f0c030"/>
<rect x="92.80" y="308.50" width="16.15" height="3.15" fill="#f0ec38"/>
<rect x="108.90" y="308.50" width="16.15" height="3.15" fill="#e8962d"/>
<rect x="125.00" y="308.50" width="16.15" height="3.15" fill="#f0c030"/>
<rect x="76.70" y="311.60" width="16.15" height="1.25" fill="#f4d62c"/>
<rect x="92.80" y="311.60" width="16.15" height="1.25" fill="#f0ec38"/>
<rect x="108.90" y="311.60" width="16.15" height="1.25" fill="#f0c030"/>
<rect x="125.00" y="311.60" width="16.15" height="1.25" fill="#f0c030"/>
<rect x="76.70" y="312.80" width="16.15" height="3.25" fill="#d03030"/>
<rect x="92.80" y="312.80" width="16.15" height="3.25" fill="#d03030"/>
<rect x="108.90" y="312.80" width="16.15" height="3.25" fill="#e1642d"/>
<rect x="125.00" y="312.80" width="16.15" height="3.25" fill="#f4d62c"/>
<rect x="76.70" y="316.00" width="16.15" height="1.25" fill="#d03030"/>
<rect x="92.80" y="316.00" width="16.15" height="1.25" fill="#d03030"/>
<rect x="108.90" y="316.00" width="16.15" height="1.25" fill="#e1642d"/>
<rect x="125.00" y="316.00" width="16.15" height="1.25" fill="#d03030"/>
<rect x="76.70" y="317.20" width="16.15" height="2.45" fill="#d03030"/>
<rect x="92.80" y="317.20" width="16.15" height="2.45" fill="#d03030"/>
<rect x="108.90" y="317.20" width="16.15" height="2.45" fill="#d03030"/>
<rect x="125.00" y="317.20" width="16.15" height="2.45" fill="#d03030"/>
<rect x="76.70" y="319.60" width="16.15" height="1.95" fill="#736eaf"/>
<rect x="92.80" y="319.60" width="16.15" height="1.95" fill="#aaaa64"/>
<rect x="108.90" y="319.60" width="16.15" height="1.95" fill="#2e4c9e"/>
<rect x="125.00" y="319.60" width="16.15" height="1.95" fill="#736eaf"/>
<rect x="76.70" y="321.50" width="16.15" height="2.05" fill="#7d7d9b"/>
<rect x="92.80" y="321.50" width="16.15" height="2.05" fill="#aaaa64"/>
<rect x="108.90" y="321.50" width="16.15" height="2.05" fill="#2e4c9e"/>
<rect x="125.00" y="321.50" width="16.15" height="2.05" fill="#7d7d9b"/>
<rect x="141.10" y="79.50" width="16.15" height="0.75" fill="#aaaa64"/>
<rect x="157.20" y="79.50" width="16.15" height="0.75" fill="#dedc8c"/>
<rect x="173.30" y="79.50" width="16.15" height="0.75" fill="#919482"/>
<rect x="189.40" y="79.50" width="16.15" height="0.75" fill="#aaaa64"/>
<rect x="141.10" y="80.20" width="16.15" height="1.85" fill="#7d7d9b"/>
<rect x="157.20" y="80.20" width="16.15" height="1.85" fill="#dedc8c"/>
<rect x="173.30" y="80.20" width="16.15" height="1.85" fill="#7d7d9b"/>
<rect x="189.40" y="80.20" width="16.15" height="1.85" fill="#aaaa64"/>
<rect x="141.10" y="82.00" width="16.15" height="2.05" fill="#dee446"/>
<rect x="157.20" y="82.00" width="16.15" height="2.05" fill="#f0c030"/>
<rect x="173.30" y="82.00" width="16.15" height="2.05" fill="#d03030"/>
<rect x="189.40" y="82.00" width="16.15" height="2.05" fill="#dee446"/>
<rect x="141.10" y="84.00" width="16.15" height="1.85" fill="#dee446"/>
<rect x="157.20" y="84.00" width="16.15" height="1.85" fill="#e8962d"/>
<rect x="173.30" y="84.00" width="16.15" height="1.85" fill="#d03030"/>
<rect x="189.40" y="84.00" width="16.15" height="1.85" fill="#f0c030"/>
<rect x="141.10" y="85.80" width="16.15" height="2.45" fill="#f0c030"/>
<rect x="157.20" y="85.80" width="16.15" height="2.45" fill="#e1642d"/>
<rect x="173.30" y="85.80" width="16.15" height="2.45" fill="#e1642d"/>
<rect x="189.40" y="85.80" width="16.15" height="2.45" fill="#d03030"/>
<rect x="141.10" y="88.20" width="16.15" height="1.35" fill="#f4d62c"/>
<rect x="157.20" y="88.20" width="16.15" height="1.35" fill="#f0c030"/>
<rect x="173.30" y="88.20" width="16.15" height="1.35" fill="#f0c030"/>
<rect x="189.40" y="88.20" width="16.15" height="1.35" fill="#d03030"/>
<rect x="141.10" y="89.50" width="16.15" height="1.85" fill="#f4d62c"/>
<rect x="157.20" y="89.50" width="16.15" height="1.85" fill="#f0c030"/>
<rect x="173.30" y="89.50" width="16.15" height="1.85" fill="#f0c030"/>
<rect x="189.40" y="89.50" width="16.15" height="1.85" fill="#f4d62c"/>
<rect x="141.10" y="91.30" width="16.15" height="1.95" fill="#f0c030"/>
<rect x="157.20" y="91.30" width="16.15" height="1.95" fill="#f4d62c"/>
<rect x="173.30" y="91.30" width="16.15" height="1.95" fill="#aaaa64"/>
<rect x="189.40" y="91.30" width="16.15" height="1.95" fill="#aaaa64"/>
<rect x="141.10" y="93.20" width="16.15" height="2.45" fill="#e1642d"/>
<rect x="157.20" y="93.20" width="16.15" height="2.45" fill="#e8962d"/>
<rect x="173.30" y="93.20" width="16.15" height="2.45" fill="#f0c030"/>
<rect x="189.40" y="93.20" width="16.15" height="2.45" fill="#aaaa64"/>
<rect x="141.10" y="95.60" width="16.15" height="1.95" fill="#e8962d"/>
<rect x="157.20" y="95.60" width="16.15" height="1.95" fill="#f0c030"/>
<rect x="173.30" y="95.60" width="16.15" height="1.95" fill="#f4d62c"/>
<rect x="189.40" y="95.60" width="16.15" height="1.95" fill="#e8962d"/>
<rect x="141.10" y="97.50" width="16.15" height="2.45" fill="#f0c030"/>
<rect x="157.20" y="97.50" width="16.15" height="2.45" fill="#f4d62c"/>
<rect x="173.30" y="97.50" width="16.15" height="2.45" fill="#dedc8c"/>
<rect x="189.40" y="97.50" width="16.15" height="2.45" fill="#f0c030"/>
<rect x="141.10" y="99.90" width="16.15" height="1.95" fill="#e8962d"/>
<rect x="157.20" y="99.90" width="16.15" height="1.95" fill="#e1642d"/>
<rect x="173.30" y="99.90" width="16.15" height="1.95" fill="#7d7d9b"/>
<rect x="189.40" y="99.90" width="16.15" height="1.95" fill="#f4d62c"/>
<rect x="141.10" y="101.80" width="16.15" height="1.85" fill="#f0c030"/>
<rect x="157.20" y="101.80" width="16.15" height="1.85" fill="#e8962d"/>
<rect x="173.30" y="101.80" width="16.15" height="1.85" fill="#dee446"/>
<rect x="189.40" y="101.80" width="16.15" height="1.85" fill="#f4d62c"/>
<rect x="141.10" y="103.60" width="16.15" height="1.95" fill="#cdc850"/>
<rect x="157.20" y="103.60" width="16.15" height="1.95" fill="#f0c030"/>
<rect x="173.30" y="103.60" width="16.15" height="1.95" fill="#f0c030"/>
<rect x="189.40" y="103.60" width="16.15" height="1.95" fill="#f0c030"/>
<rect x="141.10" y="105.50" width="16.15" height="1.85" fill="#e8962d"/>
<rect x="157.20" y="105.50" width="16.15" height="1.85" fill="#e8962d"/>
<rect x="173.30" y="105.50" width="16.15" height="1.85" fill="#e8962d"/>
<rect x="189.40" y="105.50" width="16.15" height="1.85" fill="#e1642d"/>
<rect x="141.10" y="107.30" width="16.15" height="2.55" fill="#e1642d"/>
<rect x="157.20" y="107.30" width="16.15" height="2.55" fill="#e1642d"/>
<rect x="173.30" y="107.30" width="16.15" height="2.55" fill="#e8962d"/>
<rect x="189.40" y="107.30" width="16.15" height="2.55" fill="#e8962d"/>
<rect x="141.10" y="109.80" width="16.15" height="1.85" fill="#f4d62c"/>
<rect x="157.20" y="109.80" width="16.15" height="1.85" fill="#f4d62c"/>
<rect x="173.30" y="109.80" width="16.15" height="1.85" fill="#f0c030"/>
<rect x="189.40" y="109.80" width="16.15" height="1.85" fill="#f4d62c"/>
<rect x="141.10" y="111.60" width="16.15" height="2.55" fill="#f4d62c"/>
<rect x="157.20" y="111.60" width="16.15" height="2.55" fill="#aaaa64"/>
<rect x="173.30" y="111.60" width="16.15" height="2.55" fill="#f4d62c"/>
<rect x="189.40" y="111.60" width="16.15" height="2.55" fill="#f0c030"/>
<rect x="141.10" y="114.10" width="16.15" height="1.95" fill="#f0c030"/>
<rect x="157.20" y="114.10" width="16.15" height="1.95" fill="#e8962d"/>
<rect x="173.30" y="114.10" width="16.15" height="1.95" fill="#f4d62c"/>
<rect x="189.40" y="114.10" width="16.15" height="1.95" fill="#e8962d"/>
<rect x="141.10" y="116.00" width="16.15" height="7.35" fill="#f4d62c"/>
<rect x="157.20" y="116.00" width="16.15" height="7.35" fill="#f4d62c"/>
<rect x="173.30" y="116.00" width="16.15" height="7.35" fill="#f4d62c"/>
<rect x="189.40" y="116.00" width="16.15" height="7.35" fill="#f4d62c"/>
<rect x="141.10" y="123.30" width="16.15" height="1.95" fill="#f0c030"/>
<rect x="157.20" y="123.30" width="16.15" height="1.95" fill="#f0c030"/>
<rect x="173.30" y="123.30" width="16.15" height="1.95" fill="#f4d62c"/>
<rect x="189.40" y="123.30" width="16.15" height="1.95" fill="#f4d62c"/>
<rect x="141.10" y="125.20" width="16.15" height="1.85" fill="#f4d62c"/>
<rect x="157.20" y="125.20" width="16.15" height="1.85" fill="#f4d62c"/>
<rect x="173.30" y="125.20" width="16.15" height="1.85" fill="#f4d62c"/>
<rect x="189.40" y="125.20" width="16.15" height="1.85" fill="#f0c030"/>
<rect x="141.10" y="127.00" width="16.15" height="3.05" fill="#f4d62c"/>
<rect x="157.20" y="127.00" width="16.15" height="3.05" fill="#f4d62c"/>
<rect x="173.30" y="127.00" width="16.15" height="3.05" fill="#f4d62c"/>
<rect x="189.40" y="127.00" width="16.15" height="3.05" fill="#f4d62c"/>
<rect x="141.10" y="130.00" width="16.15" height="2.55" fill="#f4d62c"/>
<rect x="157.20" y="130.00" width="16.15" height="2.55" fill="#f4d62c"/>
<rect x="173.30" y="130.00" width="16.15" height="2.55" fill="#cdc850"/>
<rect x="189.40" y="130.00" width="16.15" height="2.55" fill="#f4d62c"/>
<rect x="141.10" y="132.50" width="16.15" height="2.55" fill="#f0c030"/>
<rect x="157.20" y="132.50" width="16.15" height="2.55" fill="#f4d62c"/>
<rect x="173.30" y="132.50" width="16.15" height="2.55" fill="#f4d62c"/>
<rect x="189.40" y="132.50" width="16.15" height="2.55" fill="#f0c030"/>
<rect x="141.10" y="135.00" width="16.15" height="1.55" fill="#e8962d"/>
<rect x="157.20" y="135.00" width="16.15" height="1.55" fill="#f4d62c"/>
<rect x="173.30" y="135.00" width="16.15" height="1.55" fill="#cdc850"/>
<rect x="189.40" y="135.00" width="16.15" height="1.55" fill="#f4d62c"/>
<rect x="141.10" y="136.50" width="16.15" height="2.25" fill="#f0c030"/>
<rect x="157.20" y="136.50" width="16.15" height="2.25" fill="#f4d62c"/>
<rect x="173.30" y="136.50" width="16.15" height="2.25" fill="#cdc850"/>
<rect x="189.40" y="136.50" width="16.15" height="2.25" fill="#f4d62c"/>
<rect x="141.10" y="138.70" width="16.15" height="3.15" fill="#f4d62c"/>
<rect x="157.20" y="138.70" width="16.15" height="3.15" fill="#f4d62c"/>
<rect x="173.30" y="138.70" width="16.15" height="3.15" fill="#f4d62c"/>
<rect x="189.40" y="138.70" width="16.15" height="3.15" fill="#f4d62c"/>
<rect x="141.10" y="141.80" width="16.15" height="1.85" fill="#cdc850"/>
<rect x="157.20" y="141.80" width="16.15" height="1.85" fill="#f0c030"/>
<rect x="173.30" y="141.80" width="16.15" height="1.85" fill="#f4d62c"/>
<rect x="189.40" y="141.80" width="16.15" height="1.85" fill="#f4d62c"/>
<rect x="141.10" y="143.60" width="16.15" height="1.95" fill="#f0c030"/>
<rect x="157.20" y="143.60" width="16.15" height="1.95" fill="#f4d62c"/>
<rect x="173.30" y="143.60" width="16.15" height="1.95" fill="#e8962d"/>
<rect x="189.40" y="143.60" width="16.15" height="1.95" fill="#e8962d"/>
<rect x="141.10" y="145.50" width="16.15" height="2.55" fill="#f4d62c"/>
<rect x="157.20" y="145.50" width="16.15" height="2.55" fill="#f4d62c"/>
<rect x="173.30" y="145.50" width="16.15" height="2.55" fill="#f4d62c"/>
<rect x="189.40" y="145.50" width="16.15" height="2.55" fill="#f0c030"/>
<rect x="141.10" y="148.00" width="16.15" height="2.45" fill="#e1642d"/>
<rect x="157.20" y="148.00" width="16.15" height="2.45" fill="#e1642d"/>
<rect x="173.30" y="148.00" width="16.15" height="2.45" fill="#dee446"/>
<rect x="189.40" y="148.00" width="16.15" height="2.45" fill="#e8962d"/>
<rect x="141.10" y="150.40" width="16.15" height="2.45" fill="#e1642d"/>
<rect x="157.20" y="150.40" width="16.15" height="2.45" fill="#d03030"/>
<rect x="173.30" y="150.40" width="16.15" height="2.45" fill="#dee446"/>
<rect x="189.40" y="150.40" width="16.15" height="2.45" fill="#e1642d"/>
<rect x="141.10" y="152.80" width="16.15" height="2.55" fill="#e8962d"/>
<rect x="157.20" y="152.80" width="16.15" height="2.55" fill="#e8962d"/>
<rect x="173.30" y="152.80" width="16.15" height="2.55" fill="#f0c030"/>
<rect x="189.40" y="152.80" width="16.15" height="2.55" fill="#f0c030"/>
<rect x="141.10" y="155.30" width="16.15" height="3.75" fill="#f0c030"/>
<rect x="157.20" y="155.30" width="16.15" height="3.75" fill="#f0c030"/>
<rect x="173.30" y="155.30" width="16.15" height="3.75" fill="#e8962d"/>
<rect x="189.40" y="155.30" width="16.15" height="3.75" fill="#f0ec38"/>
<rect x="141.10" y="159.00" width="16.15" height="1.25" fill="#f0c030"/>
<rect x="157.20" y="159.00" width="16.15" height="1.25" fill="#f0ec38"/>
<rect x="173.30" y="159.00" width="16.15" height="1.25" fill="#f0ec38"/>
<rect x="189.40" y="159.00" width="16.15" height="1.25" fill="#f0c030"/>
<rect x="141.10" y="160.20" width="16.15" height="3.85" fill="#dee446"/>
<rect x="157.20" y="160.20" width="16.15" height="3.85" fill="#f0ec38"/>
<rect x="173.30" y="160.20" width="16.15" height="3.85" fill="#f0ec38"/>
<rect x="189.40" y="160.20" width="16.15" height="3.85" fill="#f0ec38"/>
<rect x="141.10" y="164.00" width="16.15" height="2.45" fill="#cdc850"/>
<rect x="157.20" y="164.00" width="16.15" height="2.45" fill="#f0ec38"/>
<rect x="173.30" y="164.00" width="16.15" height="2.45" fill="#f0ec38"/>
<rect x="189.40" y="164.00" width="16.15" height="2.45" fill="#f0ec38"/>
<rect x="141.10" y="166.40" width="16.15" height="2.45" fill="#dee446"/>
<rect x="157.20" y="166.40" width="16.15" height="2.45" fill="#f0ec38"/>
<rect x="173.30" y="166.40" width="16.15" height="2.45" fill="#f0ec38"/>
<rect x="189.40" y="166.40" width="16.15" height="2.45" fill="#f0ec38"/>
<rect x="141.10" y="168.80" width="16.15" height="5.05" fill="#cdc850"/>
<rect x="157.20" y="168.80" width="16.15" height="5.05" fill="#f0ec38"/>
<rect x="173.30" y="168.80" width="16.15" height="5.05" fill="#f0ec38"/>
<rect x="189.40" y="168.80" width="16.15" height="5.05" fill="#f0ec38"/>
<rect x="141.10" y="173.80" width="16.15" height="7.25" fill="#f0ec38"/>
<rect x="157.20" y="173.80" width="16.15" height="7.25" fill="#f0ec38"/>
<rect x="173.30" y="173.80" width="16.15" height="7.25" fill="#f0ec38"/>
<rect x="189.40" y="173.80" width="16.15" height="7.25" fill="#f0ec38"/>
<rect x="141.10" y="181.00" width="16.15" height="2.65" fill="#dee446"/>
<rect x="157.20" y="181.00" width="16.15" height="2.65" fill="#f0ec38"/>
<rect x="173.30" y="181.00" width="16.15" height="2.65" fill="#f0ec38"/>
<rect x="189.40" y="181.00" width="16.15" height="2.65" fill="#f0ec38"/>
<rect x="141.10" y="183.60" width="16.15" height="0.65" fill="#f0ec38"/>
<rect x="157.20" y="183.60" width="16.15" height="0.65" fill="#f0ec38"/>
<rect x="173.30" y="183.60" width="16.15" height="0.65" fill="#f0ec38"/>
<rect x="189.40" y="183.60" width="16.15" height="0.65" fill="#f0ec38"/>
<rect x="141.10" y="184.20" width="16.15" height="2.55" fill="#f0ec38"/>
<rect x="157.20" y="184.20" width="16.15" height="2.55" fill="#f0ec38"/>
<rect x="173.30" y="184.20" width="16.15" height="2.55" fill="#cdc850"/>
<rect x="189.40" y="184.20" width="16.15" height="2.55" fill="#f0c030"/>
<rect x="141.10" y="186.70" width="16.15" height="1.35" fill="#f0ec38"/>
<rect x="157.20" y="186.70" width="16.15" height="1.35" fill="#f0ec38"/>
<rect x="173.30" y="186.70" width="16.15" height="1.35" fill="#f0ec38"/>
<rect x="189.40" y="186.70" width="16.15" height="1.35" fill="#f0ec38"/>
<rect x="141.10" y="188.00" width="16.15" height="1.85" fill="#aaaa64"/>
<rect x="157.20" y="188.00" width="16.15" height="1.85" fill="#f0ec38"/>
<rect x="173.30" y="188.00" width="16.15" height="1.85" fill="#f0ec38"/>
<rect x="189.40" y="188.00" width="16.15" height="1.85" fill="#f0ec38"/>
<rect x="141.10" y="189.80" width="16.15" height="1.75" fill="#f0ec38"/>
<rect x="157.20" y="189.80" width="16.15" height="1.75" fill="#f0ec38"/>
<rect x="173.30" y="189.80" width="16.15" height="1.75" fill="#f0ec38"/>
<rect x="189.40" y="189.80" width="16.15" height="1.75" fill="#f0ec38"/>
<rect x="141.10" y="191.50" width="16.15" height="2.05" fill="#f0ec38"/>
<rect x="157.20" y="191.50" width="16.15" height="2.05" fill="#f0ec38"/>
<rect x="173.30" y="191.50" width="16.15" height="2.05" fill="#e8962d"/>
<rect x="189.40" y="191.50" width="16.15" height="2.05" fill="#f0ec38"/>
<rect x="141.10" y="193.50" width="16.15" height="3.05" fill="#aaaa64"/>
<rect x="157.20" y="193.50" width="16.15" height="3.05" fill="#f0ec38"/>
<rect x="173.30" y="193.50" width="16.15" height="3.05" fill="#f0ec38"/>
<rect x="189.40" y="193.50" width="16.15" height="3.05" fill="#f0ec38"/>
<rect x="141.10" y="196.50" width="16.15" height="2.55" fill="#f0ec38"/>
<rect x="157.20" y="196.50" width="16.15" height="2.55" fill="#f0ec38"/>
<rect x="173.30" y="196.50" width="16.15" height="2.55" fill="#f0ec38"/>
<rect x="189.40" y="196.50" width="16.15" height="2.55" fill="#f0ec38"/>
<rect x="141.10" y="199.00" width="16.15" height="2.55" fill="#dee446"/>
<rect x="157.20" y="199.00" width="16.15" height="2.55" fill="#aaaa64"/>
<rect x="173.30" y="199.00" width="16.15" height="2.55" fill="#f0ec38"/>
<rect x="189.40" y="199.00" width="16.15" height="2.55" fill="#cdc850"/>
<rect x="141.10" y="201.50" width="16.15" height="1.55" fill="#cdc850"/>
<rect x="157.20" y="201.50" width="16.15" height="1.55" fill="#f0ec38"/>
<rect x="173.30" y="201.50" width="16.15" height="1.55" fill="#dee446"/>
<rect x="189.40" y="201.50" width="16.15" height="1.55" fill="#f0ec38"/>
<rect x="141.10" y="203.00" width="16.15" height="1.05" fill="#f0ec38"/>
<rect x="157.20" y="203.00" width="16.15" height="1.05" fill="#f0ec38"/>
<rect x="173.30" y="203.00" width="16.15" height="1.05" fill="#dee446"/>
<rect x="189.40" y="203.00" width="16.15" height="1.05" fill="#f0ec38"/>
<rect x="141.10" y="204.00" width="16.15" height="4.25" fill="#f0ec38"/>
<rect x="157.20" y="204.00" width="16.15" height="4.25" fill="#f0ec38"/>
<rect x="173.30" y="204.00" width="16.15" height="4.25" fill="#f0ec38"/>
<rect x="189.40" y="204.00" width="16.15" height="4.25" fill="#f0ec38"/>
<rect x="141.10" y="208.20" width="16.15" height="1.85" fill="#f0ec38"/>
<rect x="157.20" y="208.20" width="16.15" height="1.85" fill="#dee446"/>
<rect x="173.30" y="208.20" width="16.15" height="1.85" fill="#807c64"/>
<rect x="189.40" y="208.20" width="16.15" height="1.85" fill="#f0ec38"/>
<rect x="141.10" y="210.00" width="16.15" height="1.35" fill="#cdc850"/>
<rect x="157.20" y="210.00" width="16.15" height="1.35" fill="#dee446"/>
<rect x="173.30" y="210.00" width="16.15" height="1.35" fill="#807c64"/>
<rect x="189.40" y="210.00" width="16.15" height="1.35" fill="#f0ec38"/>
<rect x="141.10" y="211.30" width="16.15" height="2.55" fill="#f0ec38"/>
<rect x="157.20" y="211.30" width="16.15" height="2.55" fill="#f0ec38"/>
<rect x="173.30" y="211.30" width="16.15" height="2.55" fill="#f0ec38"/>
<rect x="189.40" y="211.30" width="16.15" height="2.55" fill="#f0ec38"/>
<rect x="141.10" y="213.80" width="16.15" height="2.45" fill="#50697d"/>
<rect x="157.20" y="213.80" width="16.15" height="2.45" fill="#807c64"/>
<rect x="173.30" y="213.80" width="16.15" height="2.45" fill="#cdc850"/>
<rect x="189.40" y="213.80" width="16.15" height="2.45" fill="#f0ec38"/>
<rect x="141.10" y="216.20" width="16.15" height="1.95" fill="#f0ec38"/>
<rect x="157.20" y="216.20" width="16.15" height="1.95" fill="#dee446"/>
<rect x="173.30" y="216.20" width="16.15" height="1.95" fill="#f0ec38"/>
<rect x="189.40" y="216.20" width="16.15" height="1.95" fill="#f0ec38"/>
<rect x="141.10" y="218.10" width="16.15" height="5.55" fill="#dee446"/>
<rect x="157.20" y="218.10" width="16.15" height="5.55" fill="#f0ec38"/>
<rect x="173.30" y="218.10" width="16.15" height="5.55" fill="#f0ec38"/>
<rect x="189.40" y="218.10" width="16.15" height="5.55" fill="#f0ec38"/>
<rect x="141.10" y="223.60" width="16.15" height="1.95" fill="#e1642d"/>
<rect x="157.20" y="223.60" width="16.15" height="1.95" fill="#e1642d"/>
<rect x="173.30" y="223.60" width="16.15" height="1.95" fill="#e1642d"/>
<rect x="189.40" y="223.60" width="16.15" height="1.95" fill="#e1642d"/>
<rect x="141.10" y="225.50" width="16.15" height="1.25" fill="#f0c030"/>
<rect x="157.20" y="225.50" width="16.15" height="1.25" fill="#e1642d"/>
<rect x="173.30" y="225.50" width="16.15" height="1.25" fill="#e1642d"/>
<rect x="189.40" y="225.50" width="16.15" height="1.25" fill="#f0c030"/>
<rect x="141.10" y="226.70" width="16.15" height="2.55" fill="#f0ec38"/>
<rect x="157.20" y="226.70" width="16.15" height="2.55" fill="#e8962d"/>
<rect x="173.30" y="226.70" width="16.15" height="2.55" fill="#dee446"/>
<rect x="189.40" y="226.70" width="16.15" height="2.55" fill="#f4d62c"/>
<rect x="141.10" y="229.20" width="16.15" height="3.05" fill="#f0ec38"/>
<rect x="157.20" y="229.20" width="16.15" height="3.05" fill="#e8962d"/>
<rect x="173.30" y="229.20" width="16.15" height="3.05" fill="#f0ec38"/>
<rect x="189.40" y="229.20" width="16.15" height="3.05" fill="#f4d62c"/>
<rect x="141.10" y="232.20" width="16.15" height="2.55" fill="#cdc850"/>
<rect x="157.20" y="232.20" width="16.15" height="2.55" fill="#e8962d"/>
<rect x="173.30" y="232.20" width="16.15" height="2.55" fill="#dee446"/>
<rect x="189.40" y="232.20" width="16.15" height="2.55" fill="#f4d62c"/>
<rect x="141.10" y="234.70" width="16.15" height="4.35" fill="#f0ec38"/>
<rect x="157.20" y="234.70" width="16.15" height="4.35" fill="#e1642d"/>
<rect x="173.30" y="234.70" width="16.15" height="4.35" fill="#dee446"/>
<rect x="189.40" y="234.70" width="16.15" height="4.35" fill="#f4d62c"/>
<rect x="141.10" y="239.00" width="16.15" height="2.55" fill="#f0ec38"/>
<rect x="157.20" y="239.00" width="16.15" height="2.55" fill="#e1642d"/>
<rect x="173.30" y="239.00" width="16.15" height="2.55" fill="#f0ec38"/>
<rect x="189.40" y="239.00" width="16.15" height="2.55" fill="#f4d62c"/>
<rect x="141.10" y="241.50" width="16.15" height="1.85" fill="#f0ec38"/>
<rect x="157.20" y="241.50" width="16.15" height="1.85" fill="#e8962d"/>
<rect x="173.30" y="241.50" width="16.15" height="1.85" fill="#f0ec38"/>
<rect x="189.40" y="241.50" width="16.15" height="1.85" fill="#f4d62c"/>
<rect x="141.10" y="243.30" width="16.15" height="1.25" fill="#f0ec38"/>
<rect x="157.20" y="243.30" width="16.15" height="1.25" fill="#e8962d"/>
<rect x="173.30" y="243.30" width="16.15" height="1.25" fill="#f0ec38"/>
<rect x="189.40" y="243.30" width="16.15" height="1.25" fill="#aaaa64"/>
<rect x="141.10" y="244.50" width="16.15" height="1.55" fill="#f0ec38"/>
<rect x="157.20" y="244.50" width="16.15" height="1.55" fill="#e8962d"/>
<rect x="173.30" y="244.50" width="16.15" height="1.55" fill="#f0ec38"/>
<rect x="189.40" y="244.50" width="16.15" height="1.55" fill="#f4d62c"/>
<rect x="141.10" y="246.00" width="16.15" height="1.65" fill="#f0ec38"/>
<rect x="157.20" y="246.00" width="16.15" height="1.65" fill="#e1642d"/>
<rect x="173.30" y="246.00" width="16.15" height="1.65" fill="#f0ec38"/>
<rect x="189.40" y="246.00" width="16.15" height="1.65" fill="#f4d62c"/>
<rect x="141.10" y="247.60" width="16.15" height="2.45" fill="#f0ec38"/>
<rect x="157.20" y="247.60" width="16.15" height="2.45" fill="#f0c030"/>
<rect x="173.30" y="247.60" width="16.15" height="2.45" fill="#f0ec38"/>
<rect x="189.40" y="247.60" width="16.15" height="2.45" fill="#f4d62c"/>
<rect x="141.10" y="250.00" width="16.15" height="1.35" fill="#e8962d"/>
<rect x="157.20" y="250.00" width="16.15" height="1.35" fill="#f0c030"/>
<rect x="173.30" y="250.00" width="16.15" height="1.35" fill="#f0ec38"/>
<rect x="189.40" y="250.00" width="16.15" height="1.35" fill="#f4d62c"/>
<rect x="141.10" y="251.30" width="16.15" height="2.25" fill="#f0ec38"/>
<rect x="157.20" y="251.30" width="16.15" height="2.25" fill="#e8962d"/>
<rect x="173.30" y="251.30" width="16.15" height="2.25" fill="#aaaa64"/>
<rect x="189.40" y="251.30" width="16.15" height="2.25" fill="#f0c030"/>
<rect x="141.10" y="253.50" width="16.15" height="2.75" fill="#f0ec38"/>
<rect x="157.20" y="253.50" width="16.15" height="2.75" fill="#e8962d"/>
<rect x="173.30" y="253.50" width="16.15" height="2.75" fill="#cdc850"/>
<rect x="189.40" y="253.50" width="16.15" height="2.75" fill="#f0c030"/>
<rect x="141.10" y="256.20" width="16.15" height="3.75" fill="#f0ec38"/>
<rect x="157.20" y="256.20" width="16.15" height="3.75" fill="#e8962d"/>
<rect x="173.30" y="256.20" width="16.15" height="3.75" fill="#dee446"/>
<rect x="189.40" y="256.20" width="16.15" height="3.75" fill="#f0c030"/>
<rect x="141.10" y="259.90" width="16.15" height="3.75" fill="#f0ec38"/>
<rect x="157.20" y="259.90" width="16.15" height="3.75" fill="#e8962d"/>
<rect x="173.30" y="259.90" width="16.15" height="3.75" fill="#f0ec38"/>
<rect x="189.40" y="259.90" width="16.15" height="3.75" fill="#f4d62c"/>
<rect x="141.10" y="263.60" width="16.15" height="3.15" fill="#f0ec38"/>
<rect x="157.20" y="263.60" width="16.15" height="3.15" fill="#e8962d"/>
<rect x="173.30" y="263.60" width="16.15" height="3.15" fill="#dee446"/>
<rect x="189.40" y="263.60" width="16.15" height="3.15" fill="#f4d62c"/>
<rect x="141.10" y="266.70" width="16.15" height="1.35" fill="#f0ec38"/>
<rect x="157.20" y="266.70" width="16.15" height="1.35" fill="#e8962d"/>
<rect x="173.30" y="266.70" width="16.15" height="1.35" fill="#f0ec38"/>
<rect x="189.40" y="266.70" width="16.15" height="1.35" fill="#f4d62c"/>
<rect x="141.10" y="268.00" width="16.15" height="1.85" fill="#f0ec38"/>
<rect x="157.20" y="268.00" width="16.15" height="1.85" fill="#e8962d"/>
<rect x="173.30" y="268.00" width="16.15" height="1.85" fill="#aaaa64"/>
<rect x="189.40" y="268.00" width="16.15" height="1.85" fill="#f4d62c"/>
<rect x="141.10" y="269.80" width="16.15" height="4.25" fill="#f0ec38"/>
<rect x="157.20" y="269.80" width="16.15" height="4.25" fill="#f0c030"/>
<rect x="173.30" y="269.80" width="16.15" height="4.25" fill="#dee446"/>
<rect x="189.40" y="269.80" width="16.15" height="4.25" fill="#f4d62c"/>
<rect x="141.10" y="274.00" width="16.15" height="2.05" fill="#f0ec38"/>
<rect x="157.20" y="274.00" width="16.15" height="2.05" fill="#f0ec38"/>
<rect x="173.30" y="274.00" width="16.15" height="2.05" fill="#6e6e50"/>
<rect x="189.40" y="274.00" width="16.15" height="2.05" fill="#dee446"/>
<rect x="141.10" y="276.00" width="16.15" height="3.05" fill="#f0c030"/>
<rect x="157.20" y="276.00" width="16.15" height="3.05" fill="#e1642d"/>
<rect x="173.30" y="276.00" width="16.15" height="3.05" fill="#f0ec38"/>
<rect x="189.40" y="276.00" width="16.15" height="3.05" fill="#f4d62c"/>
<rect x="141.10" y="279.00" width="16.15" height="1.25" fill="#f0ec38"/>
<rect x="157.20" y="279.00" width="16.15" height="1.25" fill="#e1642d"/>
<rect x="173.30" y="279.00" width="16.15" height="1.25" fill="#f0ec38"/>
<rect x="189.40" y="279.00" width="16.15" height="1.25" fill="#f4d62c"/>
<rect x="141.10" y="280.20" width="16.15" height="3.15" fill="#f0ec38"/>
<rect x="157.20" y="280.20" width="16.15" height="3.15" fill="#e8962d"/>
<rect x="173.30" y="280.20" width="16.15" height="3.15" fill="#f0ec38"/>
<rect x="189.40" y="280.20" width="16.15" height="3.15" fill="#cdc850"/>
<rect x="141.10" y="283.30" width="16.15" height="1.05" fill="#f0ec38"/>
<rect x="157.20" y="283.30" width="16.15" height="1.05" fill="#e8962d"/>
<rect x="173.30" y="283.30" width="16.15" height="1.05" fill="#dee446"/>
<rect x="189.40" y="283.30" width="16.15" height="1.05" fill="#f4d62c"/>
<rect x="141.10" y="284.30" width="16.15" height="1.55" fill="#f0ec38"/>
<rect x="157.20" y="284.30" width="16.15" height="1.55" fill="#e8962d"/>
<rect x="173.30" y="284.30" width="16.15" height="1.55" fill="#dee446"/>
<rect x="189.40" y="284.30" width="16.15" height="1.55" fill="#e1642d"/>
<rect x="141.10" y="285.80" width="16.15" height="2.45" fill="#dee446"/>
<rect x="157.20" y="285.80" width="16.15" height="2.45" fill="#f0c030"/>
<rect x="173.30" y="285.80" width="16.15" height="2.45" fill="#aaaa64"/>
<rect x="189.40" y="285.80" width="16.15" height="2.45" fill="#f4d62c"/>
<rect x="141.10" y="288.20" width="16.15" height="1.35" fill="#f0ec38"/>
<rect x="157.20" y="288.20" width="16.15" height="1.35" fill="#e1642d"/>
<rect x="173.30" y="288.20" width="16.15" height="1.35" fill="#f0ec38"/>
<rect x="189.40" y="288.20" width="16.15" height="1.35" fill="#f4d62c"/>
<rect x="141.10" y="289.50" width="16.15" height="1.25" fill="#f0ec38"/>
<rect x="157.20" y="289.50" width="16.15" height="1.25" fill="#e1642d"/>
<rect x="173.30" y="289.50" width="16.15" height="1.25" fill="#f0ec38"/>
<rect x="189.40" y="289.50" width="16.15" height="1.25" fill="#f0c030"/>
<rect x="141.10" y="290.70" width="16.15" height="1.85" fill="#7d7d9b"/>
<rect x="157.20" y="290.70" width="16.15" height="1.85" fill="#f0ec38"/>
<rect x="173.30" y="290.70" width="16.15" height="1.85" fill="#f0ec38"/>
<rect x="189.40" y="290.70" width="16.15" height="1.85" fill="#f0c030"/>
<rect x="141.10" y="292.50" width="16.15" height="2.55" fill="#f0ec38"/>
<rect x="157.20" y="292.50" width="16.15" height="2.55" fill="#f0ec38"/>
<rect x="173.30" y="292.50" width="16.15" height="2.55" fill="#f0ec38"/>
<rect x="189.40" y="292.50" width="16.15" height="2.55" fill="#cdc850"/>
<rect x="141.10" y="295.00" width="16.15" height="2.05" fill="#aaaa64"/>
<rect x="157.20" y="295.00" width="16.15" height="2.05" fill="#f0ec38"/>
<rect x="173.30" y="295.00" width="16.15" height="2.05" fill="#736eaf"/>
<rect x="189.40" y="295.00" width="16.15" height="2.05" fill="#7d7d9b"/>
<rect x="141.10" y="297.00" width="16.15" height="2.35" fill="#f0ec38"/>
<rect x="157.20" y="297.00" width="16.15" height="2.35" fill="#7d7d9b"/>
<rect x="173.30" y="297.00" width="16.15" height="2.35" fill="#2e4c9e"/>
<rect x="189.40" y="297.00" width="16.15" height="2.35" fill="#7d7d9b"/>
<rect x="141.10" y="299.30" width="16.15" height="2.55" fill="#736eaf"/>
<rect x="157.20" y="299.30" width="16.15" height="2.55" fill="#f0ec38"/>
<rect x="173.30" y="299.30" width="16.15" height="2.55" fill="#f0ec38"/>
<rect x="189.40" y="299.30" width="16.15" height="2.55" fill="#f4d62c"/>
<rect x="141.10" y="301.80" width="16.15" height="2.05" fill="#d03030"/>
<rect x="157.20" y="301.80" width="16.15" height="2.05" fill="#d03030"/>
<rect x="173.30" y="301.80" width="16.15" height="2.05" fill="#d03030"/>
<rect x="189.40" y="301.80" width="16.15" height="2.05" fill="#f4d62c"/>
<rect x="141.10" y="303.80" width="16.15" height="1.75" fill="#d03030"/>
<rect x="157.20" y="303.80" width="16.15" height="1.75" fill="#d03030"/>
<rect x="173.30" y="303.80" width="16.15" height="1.75" fill="#d03030"/>
<rect x="189.40" y="303.80" width="16.15" height="1.75" fill="#e1642d"/>
<rect x="141.10" y="305.50" width="16.15" height="2.55" fill="#f0c030"/>
<rect x="157.20" y="305.50" width="16.15" height="2.55" fill="#e8962d"/>
<rect x="173.30" y="305.50" width="16.15" height="2.55" fill="#e1642d"/>
<rect x="189.40" y="305.50" width="16.15" height="2.55" fill="#e1642d"/>
<rect x="141.10" y="308.00" width="16.15" height="2.45" fill="#f0ec38"/>
<rect x="157.20" y="308.00" width="16.15" height="2.45" fill="#e8962d"/>
<rect x="173.30" y="308.00" width="16.15" height="2.45" fill="#f0ec38"/>
<rect x="189.40" y="308.00" width="16.15" height="2.45" fill="#f4d62c"/>
<rect x="141.10" y="310.40" width="16.15" height="2.45" fill="#f0ec38"/>
<rect x="157.20" y="310.40" width="16.15" height="2.45" fill="#f0c030"/>
<rect x="173.30" y="310.40" width="16.15" height="2.45" fill="#f0ec38"/>
<rect x="189.40" y="310.40" width="16.15" height="2.45" fill="#f4d62c"/>
<rect x="141.10" y="312.80" width="16.15" height="1.95" fill="#6e6e50"/>
<rect x="157.20" y="312.80" width="16.15" height="1.95" fill="#f0ec38"/>
<rect x="173.30" y="312.80" width="16.15" height="1.95" fill="#f0c030"/>
<rect x="189.40" y="312.80" width="16.15" height="1.95" fill="#6e6e50"/>
<rect x="141.10" y="314.70" width="16.15" height="2.55" fill="#f0ec38"/>
<rect x="157.20" y="314.70" width="16.15" height="2.55" fill="#f0ec38"/>
<rect x="173.30" y="314.70" width="16.15" height="2.55" fill="#f0ec38"/>
<rect x="189.40" y="314.70" width="16.15" height="2.55" fill="#f4d62c"/>
<rect x="141.10" y="317.20" width="16.15" height="2.45" fill="#e1642d"/>
<rect x="157.20" y="317.20" width="16.15" height="2.45" fill="#f0c030"/>
<rect x="173.30" y="317.20" width="16.15" height="2.45" fill="#e1642d"/>
<rect x="189.40" y="317.20" width="16.15" height="2.45" fill="#e1642d"/>
<rect x="141.10" y="319.60" width="16.15" height="1.95" fill="#f0ec38"/>
<rect x="157.20" y="319.60" width="16.15" height="1.95" fill="#cdc850"/>
<rect x="173.30" y="319.60" width="16.15" height="1.95" fill="#f0ec38"/>
<rect x="189.40" y="319.60" width="16.15" height="1.95" fill="#e8962d"/>
<rect x="141.10" y="321.50" width="16.15" height="2.05" fill="#aaaa64"/>
<rect x="157.20" y="321.50" width="16.15" height="2.05" fill="#cdc850"/>
<rect x="173.30" y="321.50" width="16.15" height="2.05" fill="#f0ec38"/>
<rect x="189.40" y="321.50" width="16.15" height="2.05" fill="#736eaf"/>
<rect x="205.50" y="79.50" width="16.15" height="0.75" fill="#e8962d"/>
<rect x="221.60" y="79.50" width="16.15" height="0.75" fill="#e8962d"/>
<rect x="237.70" y="79.50" width="16.15" height="0.75" fill="#e1642d"/>
<rect x="205.50" y="80.20" width="16.15" height="2.65" fill="#e8962d"/>
<rect x="221.60" y="80.20" width="16.15" height="2.65" fill="#f0c030"/>
<rect x="237.70" y="80.20" width="16.15" height="2.65" fill="#e1642d"/>
<rect x="205.50" y="82.80" width="16.15" height="2.05" fill="#e8962d"/>
<rect x="221.60" y="82.80" width="16.15" height="2.05" fill="#e1642d"/>
<rect x="237.70" y="82.80" width="16.15" height="2.05" fill="#e1642d"/>
<rect x="205.50" y="84.80" width="16.15" height="1.45" fill="#e1642d"/>
<rect x="221.60" y="84.80" width="16.15" height="1.45" fill="#d03030"/>
<rect x="237.70" y="84.80" width="16.15" height="1.45" fill="#d03030"/>
<rect x="205.50" y="86.20" width="16.15" height="3.45" fill="#d03030"/>
<rect x="221.60" y="86.20" width="16.15" height="3.45" fill="#d03030"/>
<rect x="237.70" y="86.20" width="16.15" height="3.45" fill="#d03030"/>
<rect x="205.50" y="89.60" width="16.15" height="1.45" fill="#f4d62c"/>
<rect x="221.60" y="89.60" width="16.15" height="1.45" fill="#f0c030"/>
<rect x="237.70" y="89.60" width="16.15" height="1.45" fill="#e8962d"/>
<rect x="205.50" y="91.00" width="16.15" height="2.45" fill="#f4d62c"/>
<rect x="221.60" y="91.00" width="16.15" height="2.45" fill="#f4d62c"/>
<rect x="237.70" y="91.00" width="16.15" height="2.45" fill="#f0c030"/>
<rect x="205.50" y="93.40" width="16.15" height="1.55" fill="#e8962d"/>
<rect x="221.60" y="93.40" width="16.15" height="1.55" fill="#f4d62c"/>
<rect x="237.70" y="93.40" width="16.15" height="1.55" fill="#e8962d"/>
<rect x="205.50" y="94.90" width="16.15" height="2.45" fill="#f0c030"/>
<rect x="221.60" y="94.90" width="16.15" height="2.45" fill="#e1642d"/>
<rect x="237.70" y="94.90" width="16.15" height="2.45" fill="#f0c030"/>
<rect x="205.50" y="97.30" width="16.15" height="1.95" fill="#f4d62c"/>
<rect x="221.60" y="97.30" width="16.15" height="1.95" fill="#f0c030"/>
<rect x="237.70" y="97.30" width="16.15" height="1.95" fill="#f4d62c"/>
<rect x="205.50" y="99.20" width="16.15" height="2.45" fill="#f4d62c"/>
<rect x="221.60" y="99.20" width="16.15" height="2.45" fill="#f4d62c"/>
<rect x="237.70" y="99.20" width="16.15" height="2.45" fill="#e1642d"/>
<rect x="205.50" y="101.60" width="16.15" height="1.95" fill="#f0c030"/>
<rect x="221.60" y="101.60" width="16.15" height="1.95" fill="#f0c030"/>
<rect x="237.70" y="101.60" width="16.15" height="1.95" fill="#e8962d"/>
<rect x="205.50" y="103.50" width="16.15" height="1.95" fill="#e8962d"/>
<rect x="221.60" y="103.50" width="16.15" height="1.95" fill="#e1642d"/>
<rect x="237.70" y="103.50" width="16.15" height="1.95" fill="#f0c030"/>
<rect x="205.50" y="105.40" width="16.15" height="1.55" fill="#f4d62c"/>
<rect x="221.60" y="105.40" width="16.15" height="1.55" fill="#e8962d"/>
<rect x="237.70" y="105.40" width="16.15" height="1.55" fill="#f4d62c"/>
<rect x="205.50" y="106.90" width="16.15" height="1.95" fill="#b45c32"/>
<rect x="221.60" y="106.90" width="16.15" height="1.95" fill="#f4d62c"/>
<rect x="237.70" y="106.90" width="16.15" height="1.95" fill="#f4d62c"/>
<rect x="205.50" y="108.80" width="16.15" height="1.95" fill="#f4d62c"/>
<rect x="221.60" y="108.80" width="16.15" height="1.95" fill="#dee446"/>
<rect x="237.70" y="108.80" width="16.15" height="1.95" fill="#f0c030"/>
<rect x="205.50" y="110.70" width="16.15" height="1.55" fill="#6e6e50"/>
<rect x="221.60" y="110.70" width="16.15" height="1.55" fill="#f4d62c"/>
<rect x="237.70" y="110.70" width="16.15" height="1.55" fill="#e8962d"/>
<rect x="205.50" y="112.20" width="16.15" height="1.95" fill="#f4d62c"/>
<rect x="221.60" y="112.20" width="16.15" height="1.95" fill="#f4d62c"/>
<rect x="237.70" y="112.20" width="16.15" height="1.95" fill="#f4d62c"/>
<rect x="205.50" y="114.10" width="16.15" height="1.95" fill="#f4d62c"/>
<rect x="221.60" y="114.10" width="16.15" height="1.95" fill="#f0c030"/>
<rect x="237.70" y="114.10" width="16.15" height="1.95" fill="#50697d"/>
<rect x="205.50" y="116.00" width="16.15" height="4.45" fill="#f4d62c"/>
<rect x="221.60" y="116.00" width="16.15" height="4.45" fill="#f4d62c"/>
<rect x="237.70" y="116.00" width="16.15" height="4.45" fill="#f4d62c"/>
<rect x="205.50" y="120.40" width="16.15" height="2.45" fill="#f4d62c"/>
<rect x="221.60" y="120.40" width="16.15" height="2.45" fill="#f0c030"/>
<rect x="237.70" y="120.40" width="16.15" height="2.45" fill="#f4d62c"/>
<rect x="205.50" y="122.80" width="16.15" height="4.95" fill="#f4d62c"/>
<rect x="221.60" y="122.80" width="16.15" height="4.95" fill="#f4d62c"/>
<rect x="237.70" y="122.80" width="16.15" height="4.95" fill="#f4d62c"/>
<rect x="205.50" y="127.70" width="16.15" height="1.95" fill="#f4d62c"/>
<rect x="221.60" y="127.70" width="16.15" height="1.95" fill="#f4d62c"/>
<rect x="237.70" y="127.70" width="16.15" height="1.95" fill="#e8962d"/>
<rect x="205.50" y="129.60" width="16.15" height="1.95" fill="#f0c030"/>
<rect x="221.60" y="129.60" width="16.15" height="1.95" fill="#f0c030"/>
<rect x="237.70" y="129.60" width="16.15" height="1.95" fill="#f4d62c"/>
<rect x="205.50" y="131.50" width="16.15" height="2.95" fill="#f4d62c"/>
<rect x="221.60" y="131.50" width="16.15" height="2.95" fill="#cdc850"/>
<rect x="237.70" y="131.50" width="16.15" height="2.95" fill="#f4d62c"/>
<rect x="205.50" y="134.40" width="16.15" height="1.65" fill="#f4d62c"/>
<rect x="221.60" y="134.40" width="16.15" height="1.65" fill="#f4d62c"/>
<rect x="237.70" y="134.40" width="16.15" height="1.65" fill="#f4d62c"/>
<rect x="205.50" y="136.00" width="16.15" height="2.25" fill="#f0c030"/>
<rect x="221.60" y="136.00" width="16.15" height="2.25" fill="#f4d62c"/>
<rect x="237.70" y="136.00" width="16.15" height="2.25" fill="#f4d62c"/>
<rect x="205.50" y="138.20" width="16.15" height="2.05" fill="#f4d62c"/>
<rect x="221.60" y="138.20" width="16.15" height="2.05" fill="#f4d62c"/>
<rect x="237.70" y="138.20" width="16.15" height="2.05" fill="#f4d62c"/>
<rect x="205.50" y="140.20" width="16.15" height="2.45" fill="#e1642d"/>
<rect x="221.60" y="140.20" width="16.15" height="2.45" fill="#f0c030"/>
<rect x="237.70" y="140.20" width="16.15" height="2.45" fill="#f0c030"/>
<rect x="205.50" y="142.60" width="16.15" height="2.45" fill="#f0c030"/>
<rect x="221.60" y="142.60" width="16.15" height="2.45" fill="#e8962d"/>
<rect x="237.70" y="142.60" width="16.15" height="2.45" fill="#f4d62c"/>
<rect x="205.50" y="145.00" width="16.15" height="2.85" fill="#f4d62c"/>
<rect x="221.60" y="145.00" width="16.15" height="2.85" fill="#f4d62c"/>
<rect x="237.70" y="145.00" width="16.15" height="2.85" fill="#f4d62c"/>
<rect x="205.50" y="147.80" width="16.15" height="3.95" fill="#dee446"/>
<rect x="221.60" y="147.80" width="16.15" height="3.95" fill="#dee446"/>
<rect x="237.70" y="147.80" width="16.15" height="3.95" fill="#f4d62c"/>
<rect x="205.50" y="151.70" width="16.15" height="6.35" fill="#dee446"/>
<rect x="221.60" y="151.70" width="16.15" height="6.35" fill="#f0ec38"/>
<rect x="237.70" y="151.70" width="16.15" height="6.35" fill="#f0ec38"/>
<rect x="205.50" y="158.00" width="16.15" height="1.05" fill="#6e6e50"/>
<rect x="221.60" y="158.00" width="16.15" height="1.05" fill="#f0ec38"/>
<rect x="237.70" y="158.00" width="16.15" height="1.05" fill="#f0ec38"/>
<rect x="205.50" y="159.00" width="16.15" height="1.25" fill="#6e6e50"/>
<rect x="221.60" y="159.00" width="16.15" height="1.25" fill="#f0ec38"/>
<rect x="237.70" y="159.00" width="16.15" height="1.25" fill="#f0ec38"/>
<rect x="205.50" y="160.20" width="16.15" height="3.65" fill="#dee446"/>
<rect x="221.60" y="160.20" width="16.15" height="3.65" fill="#dee446"/>
<rect x="237.70" y="160.20" width="16.15" height="3.65" fill="#f0ec38"/>
<rect x="205.50" y="163.80" width="16.15" height="2.45" fill="#dee446"/>
<rect x="221.60" y="163.80" width="16.15" height="2.45" fill="#cdc850"/>
<rect x="237.70" y="163.80" width="16.15" height="2.45" fill="#f0ec38"/>
<rect x="205.50" y="166.20" width="16.15" height="3.45" fill="#cdc850"/>
<rect x="221.60" y="166.20" width="16.15" height="3.45" fill="#dee446"/>
<rect x="237.70" y="166.20" width="16.15" height="3.45" fill="#f0ec38"/>
<rect x="205.50" y="169.60" width="16.15" height="2.95" fill="#dee446"/>
<rect x="221.60" y="169.60" width="16.15" height="2.95" fill="#cdc850"/>
<rect x="237.70" y="169.60" width="16.15" height="2.95" fill="#f0ec38"/>
<rect x="205.50" y="172.50" width="16.15" height="3.35" fill="#dee446"/>
<rect x="221.60" y="172.50" width="16.15" height="3.35" fill="#dee446"/>
<rect x="237.70" y="172.50" width="16.15" height="3.35" fill="#f0ec38"/>
<rect x="205.50" y="175.80" width="16.15" height="2.05" fill="#cdc850"/>
<rect x="221.60" y="175.80" width="16.15" height="2.05" fill="#cdc850"/>
<rect x="237.70" y="175.80" width="16.15" height="2.05" fill="#f0ec38"/>
<rect x="205.50" y="177.80" width="16.15" height="2.85" fill="#dee446"/>
<rect x="221.60" y="177.80" width="16.15" height="2.85" fill="#dee446"/>
<rect x="237.70" y="177.80" width="16.15" height="2.85" fill="#f0ec38"/>
<rect x="205.50" y="180.60" width="16.15" height="2.05" fill="#cdc850"/>
<rect x="221.60" y="180.60" width="16.15" height="2.05" fill="#dee446"/>
<rect x="237.70" y="180.60" width="16.15" height="2.05" fill="#f0ec38"/>
<rect x="205.50" y="182.60" width="16.15" height="3.45" fill="#dee446"/>
<rect x="221.60" y="182.60" width="16.15" height="3.45" fill="#f0ec38"/>
<rect x="237.70" y="182.60" width="16.15" height="3.45" fill="#f0ec38"/>
<rect x="205.50" y="186.00" width="16.15" height="1.85" fill="#cdc850"/>
<rect x="221.60" y="186.00" width="16.15" height="1.85" fill="#cdc850"/>
<rect x="237.70" y="186.00" width="16.15" height="1.85" fill="#f0ec38"/>
<rect x="205.50" y="187.80" width="16.15" height="2.05" fill="#f0ec38"/>
<rect x="221.60" y="187.80" width="16.15" height="2.05" fill="#cdc850"/>
<rect x="237.70" y="187.80" width="16.15" height="2.05" fill="#f0ec38"/>
<rect x="205.50" y="189.80" width="16.15" height="1.95" fill="#cdc850"/>
<rect x="221.60" y="189.80" width="16.15" height="1.95" fill="#dee446"/>
<rect x="237.70" y="189.80" width="16.15" height="1.95" fill="#f0ec38"/>
<rect x="205.50" y="191.70" width="16.15" height="2.45" fill="#dee446"/>
<rect x="221.60" y="191.70" width="16.15" height="2.45" fill="#dee446"/>
<rect x="237.70" y="191.70" width="16.15" height="2.45" fill="#cdc850"/>
<rect x="205.50" y="194.10" width="16.15" height="1.95" fill="#dee446"/>
<rect x="221.60" y="194.10" width="16.15" height="1.95" fill="#dee446"/>
<rect x="237.70" y="194.10" width="16.15" height="1.95" fill="#f0ec38"/>
<rect x="205.50" y="196.00" width="16.15" height="1.55" fill="#e8962d"/>
<rect x="221.60" y="196.00" width="16.15" height="1.55" fill="#f0c030"/>
<rect x="237.70" y="196.00" width="16.15" height="1.55" fill="#f0ec38"/>
<rect x="205.50" y="197.50" width="16.15" height="4.45" fill="#f0ec38"/>
<rect x="221.60" y="197.50" width="16.15" height="4.45" fill="#f0ec38"/>
<rect x="237.70" y="197.50" width="16.15" height="4.45" fill="#f0ec38"/>
<rect x="205.50" y="201.90" width="16.15" height="1.95" fill="#aaaa64"/>
<rect x="221.60" y="201.90" width="16.15" height="1.95" fill="#cdc850"/>
<rect x="237.70" y="201.90" width="16.15" height="1.95" fill="#f0ec38"/>
<rect x="205.50" y="203.80" width="16.15" height="3.95" fill="#dee446"/>
<rect x="221.60" y="203.80" width="16.15" height="3.95" fill="#dee446"/>
<rect x="237.70" y="203.80" width="16.15" height="3.95" fill="#f0ec38"/>
<rect x="205.50" y="207.70" width="16.15" height="2.35" fill="#dee446"/>
<rect x="221.60" y="207.70" width="16.15" height="2.35" fill="#f0ec38"/>
<rect x="237.70" y="207.70" width="16.15" height="2.35" fill="#f0c030"/>
<rect x="205.50" y="210.00" width="16.15" height="2.55" fill="#f0ec38"/>
<rect x="221.60" y="210.00" width="16.15" height="2.55" fill="#cdc850"/>
<rect x="237.70" y="210.00" width="16.15" height="2.55" fill="#f0ec38"/>
<rect x="205.50" y="212.50" width="16.15" height="1.95" fill="#aaaa64"/>
<rect x="221.60" y="212.50" width="16.15" height="1.95" fill="#aaaa64"/>
<rect x="237.70" y="212.50" width="16.15" height="1.95" fill="#aaaa64"/>
<rect x="205.50" y="214.40" width="16.15" height="2.45" fill="#f0ec38"/>
<rect x="221.60" y="214.40" width="16.15" height="2.45" fill="#f0ec38"/>
<rect x="237.70" y="214.40" width="16.15" height="2.45" fill="#dee446"/>
<rect x="205.50" y="216.80" width="16.15" height="1.45" fill="#aaaa64"/>
<rect x="221.60" y="216.80" width="16.15" height="1.45" fill="#dee446"/>
<rect x="237.70" y="216.80" width="16.15" height="1.45" fill="#cdc850"/>
<rect x="205.50" y="218.20" width="16.15" height="3.95" fill="#f0ec38"/>
<rect x="221.60" y="218.20" width="16.15" height="3.95" fill="#f0ec38"/>
<rect x="237.70" y="218.20" width="16.15" height="3.95" fill="#f0ec38"/>
<rect x="205.50" y="222.10" width="16.15" height="1.45" fill="#f0ec38"/>
<rect x="221.60" y="222.10" width="16.15" height="1.45" fill="#e8962d"/>
<rect x="237.70" y="222.10" width="16.15" height="1.45" fill="#cdc850"/>
<rect x="205.50" y="223.50" width="16.15" height="2.45" fill="#f0c030"/>
<rect x="221.60" y="223.50" width="16.15" height="2.45" fill="#e1642d"/>
<rect x="237.70" y="223.50" width="16.15" height="2.45" fill="#f0ec38"/>
<rect x="205.50" y="225.90" width="16.15" height="1.65" fill="#f0c030"/>
<rect x="221.60" y="225.90" width="16.15" height="1.65" fill="#e8962d"/>
<rect x="237.70" y="225.90" width="16.15" height="1.65" fill="#f0ec38"/>
<rect x="205.50" y="227.50" width="16.15" height="1.55" fill="#736eaf"/>
<rect x="221.60" y="227.50" width="16.15" height="1.55" fill="#2e4c9e"/>
<rect x="237.70" y="227.50" width="16.15" height="1.55" fill="#50697d"/>
<rect x="205.50" y="229.00" width="16.15" height="1.55" fill="#736eaf"/>
<rect x="221.60" y="229.00" width="16.15" height="1.55" fill="#7d7d9b"/>
<rect x="237.70" y="229.00" width="16.15" height="1.55" fill="#aaaa64"/>
<rect x="205.50" y="230.50" width="16.15" height="1.55" fill="#7d7d9b"/>
<rect x="221.60" y="230.50" width="16.15" height="1.55" fill="#cdc850"/>
<rect x="237.70" y="230.50" width="16.15" height="1.55" fill="#aaaa64"/>
<rect x="205.50" y="232.00" width="16.15" height="2.05" fill="#7d7d9b"/>
<rect x="221.60" y="232.00" width="16.15" height="2.05" fill="#cdc850"/>
<rect x="237.70" y="232.00" width="16.15" height="2.05" fill="#aaaa64"/>
<rect x="205.50" y="234.00" width="16.15" height="2.05" fill="#919482"/>
<rect x="221.60" y="234.00" width="16.15" height="2.05" fill="#cdc850"/>
<rect x="237.70" y="234.00" width="16.15" height="2.05" fill="#aaaa64"/>
<rect x="205.50" y="236.00" width="16.15" height="1.55" fill="#7d7d9b"/>
<rect x="221.60" y="236.00" width="16.15" height="1.55" fill="#7d7d9b"/>
<rect x="237.70" y="236.00" width="16.15" height="1.55" fill="#aaaa64"/>
<rect x="205.50" y="237.50" width="16.15" height="1.55" fill="#7d7d9b"/>
<rect x="221.60" y="237.50" width="16.15" height="1.55" fill="#7d7d9b"/>
<rect x="237.70" y="237.50" width="16.15" height="1.55" fill="#7d7d9b"/>
<rect x="205.50" y="239.00" width="16.15" height="1.55" fill="#736eaf"/>
<rect x="221.60" y="239.00" width="16.15" height="1.55" fill="#cdc850"/>
<rect x="237.70" y="239.00" width="16.15" height="1.55" fill="#aaaa64"/>
<rect x="205.50" y="240.50" width="16.15" height="1.55" fill="#2e4c9e"/>
<rect x="221.60" y="240.50" width="16.15" height="1.55" fill="#dee446"/>
<rect x="237.70" y="240.50" width="16.15" height="1.55" fill="#dee446"/>
<rect x="205.50" y="242.00" width="16.15" height="1.55" fill="#afafc3"/>
<rect x="221.60" y="242.00" width="16.15" height="1.55" fill="#736eaf"/>
<rect x="237.70" y="242.00" width="16.15" height="1.55" fill="#cdc850"/>
<rect x="205.50" y="243.50" width="16.15" height="1.55" fill="#736eaf"/>
<rect x="221.60" y="243.50" width="16.15" height="1.55" fill="#7d7d9b"/>
<rect x="237.70" y="243.50" width="16.15" height="1.55" fill="#919482"/>
<rect x="205.50" y="245.00" width="16.15" height="1.55" fill="#7d7d9b"/>
<rect x="221.60" y="245.00" width="16.15" height="1.55" fill="#7d7d9b"/>
<rect x="237.70" y="245.00" width="16.15" height="1.55" fill="#7d7d9b"/>
<rect x="205.50" y="246.50" width="16.15" height="3.55" fill="#aaaa64"/>
<rect x="221.60" y="246.50" width="16.15" height="3.55" fill="#cdc850"/>
<rect x="237.70" y="246.50" width="16.15" height="3.55" fill="#dee446"/>
<rect x="205.50" y="250.00" width="16.15" height="1.55" fill="#cdc850"/>
<rect x="221.60" y="250.00" width="16.15" height="1.55" fill="#2e4c9e"/>
<rect x="237.70" y="250.00" width="16.15" height="1.55" fill="#7d7d9b"/>
<rect x="205.50" y="251.50" width="16.15" height="1.55" fill="#919482"/>
<rect x="221.60" y="251.50" width="16.15" height="1.55" fill="#2e4c9e"/>
<rect x="237.70" y="251.50" width="16.15" height="1.55" fill="#7d7d9b"/>
<rect x="205.50" y="253.00" width="16.15" height="1.55" fill="#7d7d9b"/>
<rect x="221.60" y="253.00" width="16.15" height="1.55" fill="#2e4c9e"/>
<rect x="237.70" y="253.00" width="16.15" height="1.55" fill="#919482"/>
<rect x="205.50" y="254.50" width="16.15" height="11.55" fill="#2e4c9e"/>
<rect x="221.60" y="254.50" width="16.15" height="11.55" fill="#2e4c9e"/>
<rect x="237.70" y="254.50" width="16.15" height="11.55" fill="#2e4c9e"/>
<rect x="205.50" y="266.00" width="16.15" height="1.55" fill="#2e4c9e"/>
<rect x="221.60" y="266.00" width="16.15" height="1.55" fill="#7d7d9b"/>
<rect x="237.70" y="266.00" width="16.15" height="1.55" fill="#2e4c9e"/>
<rect x="205.50" y="267.50" width="16.15" height="2.55" fill="#2e4c9e"/>
<rect x="221.60" y="267.50" width="16.15" height="2.55" fill="#2e4c9e"/>
<rect x="237.70" y="267.50" width="16.15" height="2.55" fill="#2e4c9e"/>
<rect x="205.50" y="270.00" width="16.15" height="3.55" fill="#2e4c9e"/>
<rect x="221.60" y="270.00" width="16.15" height="3.55" fill="#736eaf"/>
<rect x="237.70" y="270.00" width="16.15" height="3.55" fill="#cdc850"/>
<rect x="205.50" y="273.50" width="16.15" height="2.05" fill="#7d7d9b"/>
<rect x="221.60" y="273.50" width="16.15" height="2.05" fill="#7d7d9b"/>
<rect x="237.70" y="273.50" width="16.15" height="2.05" fill="#7d7d9b"/>
<rect x="205.50" y="275.50" width="16.15" height="1.55" fill="#7d7d9b"/>
<rect x="221.60" y="275.50" width="16.15" height="1.55" fill="#919482"/>
<rect x="237.70" y="275.50" width="16.15" height="1.55" fill="#aaaa64"/>
<rect x="205.50" y="277.00" width="16.15" height="2.05" fill="#2e4c9e"/>
<rect x="221.60" y="277.00" width="16.15" height="2.05" fill="#2e4c9e"/>
<rect x="237.70" y="277.00" width="16.15" height="2.05" fill="#7d7d9b"/>
<rect x="205.50" y="279.00" width="16.15" height="2.05" fill="#736eaf"/>
<rect x="221.60" y="279.00" width="16.15" height="2.05" fill="#2e4c9e"/>
<rect x="237.70" y="279.00" width="16.15" height="2.05" fill="#736eaf"/>
<rect x="205.50" y="281.00" width="16.15" height="1.55" fill="#2e4c9e"/>
<rect x="221.60" y="281.00" width="16.15" height="1.55" fill="#736eaf"/>
<rect x="237.70" y="281.00" width="16.15" height="1.55" fill="#919482"/>
<rect x="205.50" y="282.50" width="16.15" height="2.05" fill="#dedc8c"/>
<rect x="221.60" y="282.50" width="16.15" height="2.05" fill="#2e4c9e"/>
<rect x="237.70" y="282.50" width="16.15" height="2.05" fill="#cdc850"/>
<rect x="205.50" y="284.50" width="16.15" height="2.05" fill="#7d7d9b"/>
<rect x="221.60" y="284.50" width="16.15" height="2.05" fill="#736eaf"/>
<rect x="237.70" y="284.50" width="16.15" height="2.05" fill="#736eaf"/>
<rect x="205.50" y="286.50" width="16.15" height="1.55" fill="#cdc850"/>
<rect x="221.60" y="286.50" width="16.15" height="1.55" fill="#7d7d9b"/>
<rect x="237.70" y="286.50" width="16.15" height="1.55" fill="#919482"/>
<rect x="205.50" y="288.00" width="16.15" height="1.55" fill="#919482"/>
<rect x="221.60" y="288.00" width="16.15" height="1.55" fill="#7d7d9b"/>
<rect x="237.70" y="288.00" width="16.15" height="1.55" fill="#7d7d9b"/>
<rect x="205.50" y="289.50" width="16.15" height="2.05" fill="#dee446"/>
<rect x="221.60" y="289.50" width="16.15" height="2.05" fill="#cdc850"/>
<rect x="237.70" y="289.50" width="16.15" height="2.05" fill="#cdc850"/>
<rect x="205.50" y="291.50" width="16.15" height="1.55" fill="#f0ec38"/>
<rect x="221.60" y="291.50" width="16.15" height="1.55" fill="#7d7d9b"/>
<rect x="237.70" y="291.50" width="16.15" height="1.55" fill="#dee446"/>
<rect x="205.50" y="293.00" width="16.15" height="2.05" fill="#736eaf"/>
<rect x="221.60" y="293.00" width="16.15" height="2.05" fill="#cdc850"/>
<rect x="237.70" y="293.00" width="16.15" height="2.05" fill="#919482"/>
<rect x="205.50" y="295.00" width="16.15" height="5.45" fill="#f0c030"/>
<rect x="221.60" y="295.00" width="16.15" height="5.45" fill="#f0ec38"/>
<rect x="237.70" y="295.00" width="16.15" height="5.45" fill="#f0ec38"/>
<rect x="205.50" y="300.40" width="16.15" height="2.65" fill="#f0ec38"/>
<rect x="221.60" y="300.40" width="16.15" height="2.65" fill="#f0c030"/>
<rect x="237.70" y="300.40" width="16.15" height="2.65" fill="#f0ec38"/>
<rect x="205.50" y="303.00" width="16.15" height="1.65" fill="#e1642d"/>
<rect x="221.60" y="303.00" width="16.15" height="1.65" fill="#f0ec38"/>
<rect x="237.70" y="303.00" width="16.15" height="1.65" fill="#f0ec38"/>
<rect x="205.50" y="304.60" width="16.15" height="2.25" fill="#dedc8c"/>
<rect x="221.60" y="304.60" width="16.15" height="2.25" fill="#aaaa64"/>
<rect x="237.70" y="304.60" width="16.15" height="2.25" fill="#aaaa64"/>
<rect x="205.50" y="306.80" width="16.15" height="1.65" fill="#f0ec38"/>
<rect x="221.60" y="306.80" width="16.15" height="1.65" fill="#f0c030"/>
<rect x="237.70" y="306.80" width="16.15" height="1.65" fill="#f0ec38"/>
<rect x="205.50" y="308.40" width="16.15" height="4.35" fill="#2e4c9e"/>
<rect x="221.60" y="308.40" width="16.15" height="4.35" fill="#2e4c9e"/>
<rect x="237.70" y="308.40" width="16.15" height="4.35" fill="#2e4c9e"/>
<rect x="205.50" y="312.70" width="16.15" height="1.65" fill="#dee446"/>
<rect x="221.60" y="312.70" width="16.15" height="1.65" fill="#919482"/>
<rect x="237.70" y="312.70" width="16.15" height="1.65" fill="#e1642d"/>
<rect x="205.50" y="314.30" width="16.15" height="2.15" fill="#f0ec38"/>
<rect x="221.60" y="314.30" width="16.15" height="2.15" fill="#f0ec38"/>
<rect x="237.70" y="314.30" width="16.15" height="2.15" fill="#f0ec38"/>
<rect x="205.50" y="316.40" width="16.15" height="1.65" fill="#dee446"/>
<rect x="221.60" y="316.40" width="16.15" height="1.65" fill="#dee446"/>
<rect x="237.70" y="316.40" width="16.15" height="1.65" fill="#aaaa64"/>
<rect x="205.50" y="318.00" width="16.15" height="1.65" fill="#f0ec38"/>
<rect x="221.60" y="318.00" width="16.15" height="1.65" fill="#6e6e50"/>
<rect x="237.70" y="318.00" width="16.15" height="1.65" fill="#e8962d"/>
<rect x="205.50" y="319.60" width="16.15" height="2.15" fill="#f0ec38"/>
<rect x="221.60" y="319.60" width="16.15" height="2.15" fill="#f0c030"/>
<rect x="237.70" y="319.60" width="16.15" height="2.15" fill="#f0ec38"/>
<rect x="205.50" y="321.70" width="16.15" height="1.85" fill="#e1642d"/>
<rect x="221.60" y="321.70" width="16.15" height="1.85" fill="#919482"/>
<rect x="237.70" y="321.70" width="16.15" height="1.85" fill="#736eaf"/></g>
<defs><pattern id="st" width="4" height="2.5" patternUnits="userSpaceOnUse"><rect width="4" height="2.5" fill="#a4a4b4"/><rect width="4" height="1.15" fill="#141414"/></pattern><pattern id="st2" x="0" y="80.5" width="4" height="3.3" patternUnits="userSpaceOnUse"><rect width="4" height="3.3" fill="#9c9cb0"/><rect width="4" height="1.3" fill="#141414"/></pattern></defs>
<polygon points="76.3,116.3 70.5,116.3 70.5,135.0 69.0,140.0 65.8,147.0 65.8,158.0 70.8,158.5 70.8,195.0 69.7,196.0 68.4,200.0 64.0,200.0 62.5,205.0 60.7,222.0 60.7,227.0 67.2,228.0 67.2,248.0 68.6,250.0 68.6,262.0 66.0,270.0 63.3,285.6 62.0,292.0 62.0,322.5 76.3,322.5" fill="url(#st)"/>
<rect x="62.6" y="80.5" width="13.7" height="35.8" fill="url(#st2)"/>
<path d="M57.4 79.7 H76.3 V81.7 H57.4Z M52.2 82.8 H57 V87.5 H52.2Z M58.4 91.7 H62.8 V115.7 H58.4Z M56.8 107.3 H58.6 V115.7 H56.8Z M56 80 H60 V87 H56Z" fill="#141414"/>
<path d="M59.8 103 H61.3 V108 H59.8Z" fill="#fff"/>
<path d="M64 200 L68.4 200 L68.4 204 L64 222 L60.7 222 Z M66.2 262 L66.2 270 L62 282 L61.5 291 L60.3 291 L60.3 280 Z M49 276.7 H50.6 V316 H49Z" fill="#141414"/>
<path d="M52.5 295.4 H62 V296.6 H52.5Z M54 300.4 H62 V301.6 H54Z M52.5 305 H62 V306.2 H52.5Z M55 309 H62 V310.2 H55Z M52.5 312.6 H62 V313.8 H52.5Z M54 317.2 H62 V318.4 H54Z M57.4 290 L62 290 L62 292 L57.4 295Z" fill="#141414"/>
<path d="M53.20 82.00V300.00 M51.30 197.00V300.00 M49.80 276.00V316.00 M43.50 316.00H50.00 M65.80 147.00V196.00 M60.90 224.00V291.50 M66.20 229.00V275.00 M58.00 281.00V295.00 M43.20 305.00V322.00 M41.50 312.00V322.00 M65.80 147.50H70.50 M65.80 158.30H70.80 M10.00 322.40H76.30" stroke="#141414" stroke-width="1.4" fill="none"/>
<rect x="76" y="79" width="0.7" height="245" fill="#fff"/>
<path d="M84.80 47.50V79.80 M84.80 47.50H101.30 M101.30 47.50V79.80 M92.70 47.50V51.20 M92.70 51.20H101.30 M104.20 47.50V51.20 M104.20 47.50H133.70 M104.20 51.20H117.20 M117.20 51.20V79.80 M133.70 47.50V79.80 M118.40 37.50V47.50 M118.40 37.50H183.30 M150.60 27.20V37.50 M183.30 37.50V50.90 M149.50 48.30V79.80 M149.50 48.30H165.40 M165.40 48.30V79.80 M157.90 48.30V50.90 M157.90 50.90H197.70 M182.10 50.90V79.80 M197.70 50.90V79.80 M150.60 27.20H234.40 M192.70 22.40V27.20 M234.40 27.20V53.40 M214.50 50.70V79.80 M214.50 50.70H230.40 M230.40 50.70V79.80 M222.30 50.70V53.40 M222.30 53.40H246.50 M246.50 53.40V79.80" stroke="#111" stroke-width="1.7" fill="none" stroke-linecap="square"/>
<path d="M403.80 101.30 L403.80 21.60 A79.70 79.70 0 0 1 479.47 76.27 Z" fill="#989ad2" stroke="#111" stroke-width="1.9" stroke-linejoin="round"/>
<path d="M403.80 101.30 L479.47 76.27 A79.70 79.70 0 0 1 481.90 117.19 Z" fill="#f2ee32" stroke="#111" stroke-width="1.9" stroke-linejoin="round"/>
<path d="M403.80 101.30 L481.90 117.19 A79.70 79.70 0 0 1 461.32 156.46 Z" fill="#da2d2d" stroke="#111" stroke-width="1.9" stroke-linejoin="round"/>
<path d="M403.80 101.30 L461.32 156.46 A79.70 79.70 0 0 1 422.41 178.80 Z" fill="#d7ebf0" stroke="#111" stroke-width="1.9" stroke-linejoin="round"/>
<path d="M403.80 101.30 L422.41 178.80 A79.70 79.70 0 0 1 394.09 180.41 Z" fill="#962d64" stroke="#111" stroke-width="1.9" stroke-linejoin="round"/>
<path d="M403.80 101.30 L394.09 180.41 A79.70 79.70 0 0 1 369.61 173.30 Z" fill="#e6787d" stroke="#111" stroke-width="1.9" stroke-linejoin="round"/>
<path d="M403.80 101.30 L369.61 173.30 A79.70 79.70 0 0 1 403.80 21.60 Z" fill="#ffffff" stroke="#111" stroke-width="1.9" stroke-linejoin="round"/>
<rect x="303.2" y="216.20" width="17.2" height="8" fill="#989ad2" stroke="#111" stroke-width="1.6"/>
<text x="330.3" y="225.30" fill="#ae3340" stroke="#ae3340" class="lg" textLength="98.2" lengthAdjust="spacingAndGlyphs">Signal pathway</text>
<rect x="303.2" y="237.70" width="17.2" height="8" fill="#f2ee32" stroke="#111" stroke-width="1.6"/>
<text x="330.3" y="246.20" fill="#ae3340" stroke="#ae3340" class="lg" textLength="121.5" lengthAdjust="spacingAndGlyphs">Cytokine response</text>
<rect x="303.2" y="258.40" width="17.2" height="8" fill="#da2d2d" stroke="#111" stroke-width="1.6"/>
<text x="330.3" y="266.90" fill="#111" stroke="#111" class="lg" textLength="192.0" lengthAdjust="spacingAndGlyphs">Transcription factor-regulated</text>
<text x="330.3" y="284.50" fill="#111" stroke="#111" class="lg" textLength="58.4" lengthAdjust="spacingAndGlyphs">gene set</text>
<rect x="303.2" y="296.10" width="17.2" height="8" fill="#d7ebf0" stroke="#111" stroke-width="1.6"/>
<text x="330.3" y="305.20" fill="#111" stroke="#111" class="lg" textLength="91.0" lengthAdjust="spacingAndGlyphs">CMV infection</text>
<rect x="303.2" y="316.70" width="17.2" height="8" fill="#962d64" stroke="#111" stroke-width="1.6"/>
<text x="330.3" y="325.40" fill="#111" stroke="#111" class="lg" textLength="86.0" lengthAdjust="spacingAndGlyphs">UV treatment</text>
<rect x="303.2" y="337.40" width="17.2" height="8" fill="#e6787d" stroke="#111" stroke-width="1.6"/>
<text x="330.3" y="345.80" fill="#111" stroke="#111" class="lg" textLength="187.0" lengthAdjust="spacingAndGlyphs">Cell proliferation &amp; Cell cycle</text>
<rect x="303.2" y="357.60" width="17.2" height="8" fill="#ffffff" stroke="#111" stroke-width="1.6"/>
<text x="330.3" y="366.20" fill="#111" stroke="#111" class="lg" textLength="43.0" lengthAdjust="spacingAndGlyphs">Others</text>
<text class="cl" transform="translate(82.15,329.4) rotate(90)" x="0" y="0" textLength="27.6" lengthAdjust="spacingAndGlyphs">Wt 1</text>
<text class="cl" transform="translate(98.25,329.4) rotate(90)" x="0" y="0" textLength="27.6" lengthAdjust="spacingAndGlyphs">Wt 2</text>
<text class="cl" transform="translate(114.35,329.4) rotate(90)" x="0" y="0" textLength="27.6" lengthAdjust="spacingAndGlyphs">Wt 3</text>
<text class="cl" transform="translate(130.45,329.4) rotate(90)" x="0" y="0" textLength="27.6" lengthAdjust="spacingAndGlyphs">Wt 4</text>
<text class="cl" transform="translate(146.55,329.4) rotate(90)" x="0" y="0" textLength="91.3" lengthAdjust="spacingAndGlyphs">integrin &#946;3-/- 1</text>
<text class="cl" transform="translate(162.65,329.4) rotate(90)" x="0" y="0" textLength="91.3" lengthAdjust="spacingAndGlyphs">integrin &#946;3-/- 2</text>
<text class="cl" transform="translate(178.75,329.4) rotate(90)" x="0" y="0" textLength="91.3" lengthAdjust="spacingAndGlyphs">integrin &#946;3-/- 3</text>
<text class="cl" transform="translate(194.85,329.4) rotate(90)" x="0" y="0" textLength="91.3" lengthAdjust="spacingAndGlyphs">integrin &#946;3-/- 4</text>
<text class="cl" transform="translate(210.95,329.4) rotate(90)" x="0" y="0" textLength="53.0" lengthAdjust="spacingAndGlyphs">Y747A 1</text>
<text class="cl" transform="translate(227.05,329.4) rotate(90)" x="0" y="0" textLength="53.0" lengthAdjust="spacingAndGlyphs">Y747A 2</text>
<text class="cl" transform="translate(243.15,329.4) rotate(90)" x="0" y="0" textLength="53.0" lengthAdjust="spacingAndGlyphs">Y747A 3</text>
</svg>
</body></html>
